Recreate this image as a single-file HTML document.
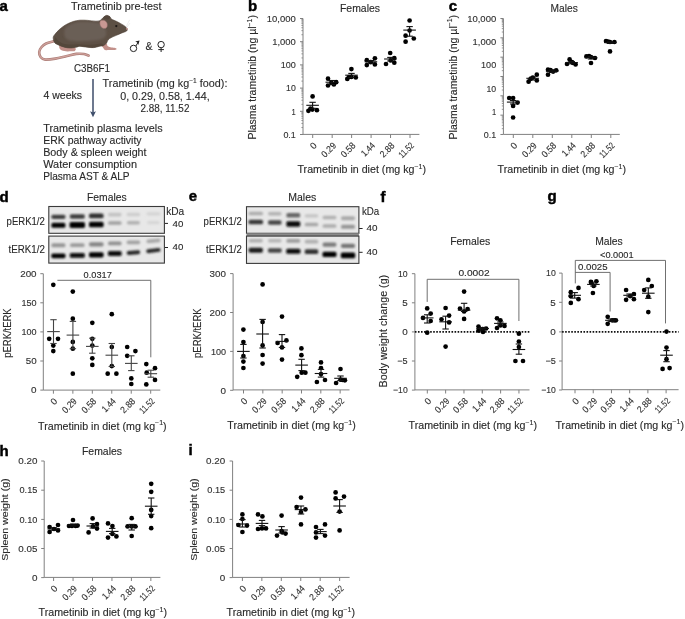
<!DOCTYPE html>
<html><head><meta charset="utf-8"><style>
html,body{margin:0;padding:0;background:#fff;}
svg{display:block;will-change:transform;}
text{font-family:"Liberation Sans", sans-serif;stroke:#2a2a2a;stroke-width:0.12px;}
</style></head><body>
<svg width="685" height="619" viewBox="0 0 685 619" fill="#2a2a2a">
<defs><filter id="bl" x="-20%" y="-100%" width="140%" height="300%"><feGaussianBlur stdDeviation="0.95"/></filter><filter id="mb" x="-10%" y="-10%" width="120%" height="120%"><feGaussianBlur stdDeviation="0.8"/></filter></defs>
<rect width="685" height="619" fill="#fff"/>
<text x="-0.6" y="11" font-size="15" font-weight="bold" style="fill:#000;stroke:#000;stroke-width:0.45px">a</text>
<text x="71" y="10" font-size="10.5" textLength="90.5" lengthAdjust="spacingAndGlyphs">Trametinib pre-test</text>
<text x="74" y="71.6" font-size="10.5" textLength="36" lengthAdjust="spacingAndGlyphs">C3B6F1</text>
<text x="43.5" y="99.4" font-size="10.5" textLength="38.5" lengthAdjust="spacingAndGlyphs">4 weeks</text>
<text x="102.6" y="87.2" font-size="10.5" textLength="124.8" lengthAdjust="spacingAndGlyphs">Trametinib (mg kg<tspan font-size="6.5" dy="-3.8">−1</tspan><tspan dy="3.8"> food):</tspan></text>
<text x="120.2" y="100.1" font-size="10.5" textLength="89.5" lengthAdjust="spacingAndGlyphs">0, 0.29, 0.58, 1.44,</text>
<text x="140.6" y="111.5" font-size="10.5" textLength="48.8" lengthAdjust="spacingAndGlyphs">2.88, 11.52</text>
<text x="43.2" y="131.9" font-size="10.5" textLength="119.4" lengthAdjust="spacingAndGlyphs">Trametinib plasma levels</text>
<text x="43.2" y="143.9" font-size="10.5" textLength="98.4" lengthAdjust="spacingAndGlyphs">ERK pathway activity</text>
<text x="43.2" y="155.9" font-size="10.5" textLength="103.4" lengthAdjust="spacingAndGlyphs">Body &amp; spleen weight</text>
<text x="43.2" y="167.9" font-size="10.5" textLength="93.8" lengthAdjust="spacingAndGlyphs">Water consumption</text>
<text x="43.2" y="179.9" font-size="10.5" textLength="86.4" lengthAdjust="spacingAndGlyphs">Plasma AST &amp; ALP</text>
<line x1="93" y1="79" x2="93" y2="113" stroke="#3d4d6a" stroke-width="1.5"/>
<path d="M90.1 111.2 L93 117.2 L95.9 111.2 L93 112.6 Z" fill="#3d4d6a"/>
<g><path d="M53.50 41.30 C52.27 41.67 48.12 42.50 46.10 43.50 C44.08 44.50 42.55 45.88 41.40 47.30 C40.25 48.72 39.32 50.35 39.20 52.00 C39.08 53.65 39.68 55.93 40.70 57.20 C41.72 58.47 42.85 59.37 45.30 59.60 C47.75 59.83 51.78 59.22 55.40 58.60 C59.02 57.98 63.52 56.68 67.00 55.90 C70.48 55.12 73.47 54.22 76.30 53.90 C79.13 53.58 81.95 53.72 84.00 54.00 C86.05 54.28 87.83 55.33 88.60 55.60" fill="none" stroke="#ad7e78" stroke-width="2.6" stroke-linecap="round"/><path d="M53.50 41.30 C52.27 41.67 48.12 42.50 46.10 43.50 C44.08 44.50 42.55 45.88 41.40 47.30 C40.25 48.72 39.32 50.35 39.20 52.00 C39.08 53.65 39.68 55.93 40.70 57.20 C41.72 58.47 42.85 59.37 45.30 59.60 C47.75 59.83 51.78 59.22 55.40 58.60 C59.02 57.98 63.52 56.68 67.00 55.90 C70.48 55.12 73.47 54.22 76.30 53.90 C79.13 53.58 81.95 53.72 84.00 54.00 C86.05 54.28 87.83 55.33 88.60 55.60" fill="none" stroke="#cfa29c" stroke-width="1.2" stroke-linecap="round"/><path d="M59.50 45.20 C60.23 44.80 62.25 45.77 64.00 46.00 C65.75 46.23 68.25 46.40 70.00 46.60 C71.75 46.80 73.53 46.77 74.50 47.20 C75.47 47.63 75.83 48.53 75.80 49.20 C75.77 49.87 75.10 50.85 74.30 51.20 C73.50 51.55 72.13 51.25 71.00 51.30 C69.87 51.35 68.62 51.55 67.50 51.50 C66.38 51.45 65.30 51.22 64.30 51.00 C63.30 50.78 62.28 50.63 61.50 50.20 C60.72 49.77 59.93 49.23 59.60 48.40 C59.27 47.57 58.77 45.60 59.50 45.20Z" fill="#c2908a"/><path d="M101.20 44.20 C101.70 43.47 105.43 43.50 106.50 43.80 C107.57 44.10 106.93 45.43 107.60 46.00 C108.27 46.57 109.35 46.90 110.50 47.20 C111.65 47.50 113.48 47.52 114.50 47.80 C115.52 48.08 116.55 48.55 116.60 48.90 C116.65 49.25 116.07 49.70 114.80 49.90 C113.53 50.10 110.60 50.08 109.00 50.10 C107.40 50.12 106.12 50.32 105.20 50.00 C104.28 49.68 104.17 49.17 103.50 48.20 C102.83 47.23 100.70 44.93 101.20 44.20Z" fill="#c2908a"/><path d="M53.20 37.60 C53.30 36.17 54.18 35.33 55.20 34.00 C56.22 32.67 57.58 31.12 59.30 29.60 C61.02 28.08 63.18 26.25 65.50 24.90 C67.82 23.55 70.78 22.28 73.20 21.50 C75.62 20.72 77.57 20.38 80.00 20.20 C82.43 20.02 85.22 20.23 87.80 20.40 C90.38 20.57 93.43 21.20 95.50 21.20 C97.57 21.20 98.92 21.00 100.20 20.40 C101.48 19.80 102.17 18.43 103.20 17.60 C104.23 16.77 105.30 15.57 106.40 15.40 C107.50 15.23 108.95 16.00 109.80 16.60 C110.65 17.20 110.27 18.15 111.50 19.00 C112.73 19.85 115.22 20.67 117.20 21.70 C119.18 22.73 121.78 24.12 123.40 25.20 C125.02 26.28 126.37 27.23 126.90 28.20 C127.43 29.17 127.43 30.22 126.60 31.00 C125.77 31.78 123.60 32.18 121.90 32.90 C120.20 33.62 118.22 34.50 116.40 35.30 C114.58 36.10 112.40 36.92 111.00 37.70 C109.60 38.48 108.75 39.08 108.00 40.00 C107.25 40.92 107.25 42.27 106.50 43.20 C105.75 44.13 104.68 45.08 103.50 45.60 C102.32 46.12 100.98 45.97 99.40 46.30 C97.82 46.63 95.93 47.43 94.00 47.60 C92.07 47.77 90.13 47.52 87.80 47.30 C85.47 47.08 81.78 46.35 80.00 46.30 C78.22 46.25 78.62 46.72 77.10 47.00 C75.58 47.28 72.97 47.95 70.90 48.00 C68.83 48.05 66.77 47.80 64.70 47.30 C62.63 46.80 60.18 45.78 58.50 45.00 C56.82 44.22 55.48 43.83 54.60 42.60 C53.72 41.37 53.10 39.03 53.20 37.60Z" fill="#5d5045" stroke="#4f4237" stroke-width="0.6"/><path d="M64.50 30.00 C64.95 28.83 65.58 27.63 67.00 26.50 C68.42 25.37 70.83 23.98 73.00 23.20 C75.17 22.42 77.50 22.03 80.00 21.80 C82.50 21.57 85.33 21.67 88.00 21.80 C90.67 21.93 93.92 22.32 96.00 22.60 C98.08 22.88 99.17 22.77 100.50 23.50 C101.83 24.23 103.08 25.75 104.00 27.00 C104.92 28.25 105.67 29.67 106.00 31.00 C106.33 32.33 106.50 33.75 106.00 35.00 C105.50 36.25 104.67 37.63 103.00 38.50 C101.33 39.37 98.83 39.78 96.00 40.20 C93.17 40.62 89.33 40.83 86.00 41.00 C82.67 41.17 78.83 41.32 76.00 41.20 C73.17 41.08 70.78 40.92 69.00 40.30 C67.22 39.68 66.08 38.63 65.30 37.50 C64.52 36.37 64.43 34.75 64.30 33.50 C64.17 32.25 64.05 31.17 64.50 30.00Z" fill="#6a5e56" filter="url(#mb)"/><path d="M54.60 42.60 C55.10 43.85 56.82 44.22 58.50 45.00 C60.18 45.78 62.63 46.80 64.70 47.30 C66.77 47.80 68.83 48.05 70.90 48.00 C72.97 47.95 75.58 47.28 77.10 47.00 C78.62 46.72 78.22 46.25 80.00 46.30 C81.78 46.35 85.47 47.08 87.80 47.30 C90.13 47.52 92.07 47.77 94.00 47.60 C95.93 47.43 97.82 46.63 99.40 46.30 C100.98 45.97 103.23 46.07 103.50 45.60 C103.77 45.13 102.58 43.68 101.00 43.50 C99.42 43.32 96.50 44.28 94.00 44.50 C91.50 44.72 88.67 44.85 86.00 44.80 C83.33 44.75 80.67 44.23 78.00 44.20 C75.33 44.17 72.50 44.72 70.00 44.60 C67.50 44.48 65.00 44.18 63.00 43.50 C61.00 42.82 59.25 41.50 58.00 40.50 C56.75 39.50 56.07 37.15 55.50 37.50 C54.93 37.85 54.10 41.35 54.60 42.60Z" fill="#54473b"/><path d="M103.2 17.6 C104.5 15.6 107.5 14.8 109.8 16.6 C110.5 17.5 110 19 108 19.5 C106 19.8 104 19.2 103.2 17.6Z" fill="#54473d"/><path d="M100.00 21.50 C100.32 20.62 101.37 20.43 102.20 20.30 C103.03 20.17 104.20 20.25 105.00 20.70 C105.80 21.15 106.63 22.05 107.00 23.00 C107.37 23.95 107.48 25.50 107.20 26.40 C106.92 27.30 106.10 28.13 105.30 28.40 C104.50 28.67 103.23 28.47 102.40 28.00 C101.57 27.53 100.70 26.68 100.30 25.60 C99.90 24.52 99.68 22.38 100.00 21.50Z" fill="#c99893" stroke="#8f6a66" stroke-width="0.5"/><circle cx="116.3" cy="26.1" r="1.15" fill="#1c1715"/><path d="M126 27 L129.6 19.8 M126.4 28 L130 23" stroke="#dcdcdc" stroke-width="0.5"/><circle cx="126.8" cy="28.8" r="0.9" fill="#c48f8a"/></g>
<g fill="none" stroke="#222" stroke-width="1.0"><circle cx="133.5" cy="48.4" r="3.2"/><path d="M135.9 46.0 L138.6 41.5"/><circle cx="161.1" cy="44.6" r="3.2"/><path d="M161.1 47.8 L161.1 52 M158.3 49.6 L163.9 49.6"/></g>
<path d="M139.5 40.6 L135.2 41.6 L137.3 42.6 L138.3 44.9 Z" fill="#222"/>
<text x="145.4" y="49.9" font-size="10.4" textLength="7.0" lengthAdjust="spacingAndGlyphs">&amp;</text>
<text x="248.1" y="11" font-size="15" font-weight="bold" style="fill:#000;stroke:#000;stroke-width:0.45px">b</text>
<text x="340" y="11.6" font-size="10" textLength="40" lengthAdjust="spacingAndGlyphs">Females</text>
<line x1="303" y1="18.5" x2="303" y2="134.5" stroke="#808080" stroke-width="1"/>
<line x1="300" y1="18.5" x2="303" y2="18.5" stroke="#808080" stroke-width="1"/>
<line x1="301.4" y1="34.72" x2="303" y2="34.72" stroke="#808080" stroke-width="0.8"/>
<line x1="301.4" y1="30.63" x2="303" y2="30.63" stroke="#808080" stroke-width="0.8"/>
<line x1="301.4" y1="27.73" x2="303" y2="27.73" stroke="#808080" stroke-width="0.8"/>
<line x1="301.4" y1="25.48" x2="303" y2="25.48" stroke="#808080" stroke-width="0.8"/>
<line x1="301.4" y1="23.65" x2="303" y2="23.65" stroke="#808080" stroke-width="0.8"/>
<line x1="301.4" y1="22.09" x2="303" y2="22.09" stroke="#808080" stroke-width="0.8"/>
<line x1="301.4" y1="20.75" x2="303" y2="20.75" stroke="#808080" stroke-width="0.8"/>
<line x1="301.4" y1="19.56" x2="303" y2="19.56" stroke="#808080" stroke-width="0.8"/>
<line x1="300" y1="41.7" x2="303" y2="41.7" stroke="#808080" stroke-width="1"/>
<line x1="301.4" y1="57.92" x2="303" y2="57.92" stroke="#808080" stroke-width="0.8"/>
<line x1="301.4" y1="53.83" x2="303" y2="53.83" stroke="#808080" stroke-width="0.8"/>
<line x1="301.4" y1="50.93" x2="303" y2="50.93" stroke="#808080" stroke-width="0.8"/>
<line x1="301.4" y1="48.68" x2="303" y2="48.68" stroke="#808080" stroke-width="0.8"/>
<line x1="301.4" y1="46.85" x2="303" y2="46.85" stroke="#808080" stroke-width="0.8"/>
<line x1="301.4" y1="45.29" x2="303" y2="45.29" stroke="#808080" stroke-width="0.8"/>
<line x1="301.4" y1="43.95" x2="303" y2="43.95" stroke="#808080" stroke-width="0.8"/>
<line x1="301.4" y1="42.76" x2="303" y2="42.76" stroke="#808080" stroke-width="0.8"/>
<line x1="300" y1="64.9" x2="303" y2="64.9" stroke="#808080" stroke-width="1"/>
<line x1="301.4" y1="81.12" x2="303" y2="81.12" stroke="#808080" stroke-width="0.8"/>
<line x1="301.4" y1="77.03" x2="303" y2="77.03" stroke="#808080" stroke-width="0.8"/>
<line x1="301.4" y1="74.13" x2="303" y2="74.13" stroke="#808080" stroke-width="0.8"/>
<line x1="301.4" y1="71.88" x2="303" y2="71.88" stroke="#808080" stroke-width="0.8"/>
<line x1="301.4" y1="70.05" x2="303" y2="70.05" stroke="#808080" stroke-width="0.8"/>
<line x1="301.4" y1="68.49" x2="303" y2="68.49" stroke="#808080" stroke-width="0.8"/>
<line x1="301.4" y1="67.15" x2="303" y2="67.15" stroke="#808080" stroke-width="0.8"/>
<line x1="301.4" y1="65.96" x2="303" y2="65.96" stroke="#808080" stroke-width="0.8"/>
<line x1="300" y1="88.1" x2="303" y2="88.1" stroke="#808080" stroke-width="1"/>
<line x1="301.4" y1="104.32" x2="303" y2="104.32" stroke="#808080" stroke-width="0.8"/>
<line x1="301.4" y1="100.23" x2="303" y2="100.23" stroke="#808080" stroke-width="0.8"/>
<line x1="301.4" y1="97.33" x2="303" y2="97.33" stroke="#808080" stroke-width="0.8"/>
<line x1="301.4" y1="95.08" x2="303" y2="95.08" stroke="#808080" stroke-width="0.8"/>
<line x1="301.4" y1="93.25" x2="303" y2="93.25" stroke="#808080" stroke-width="0.8"/>
<line x1="301.4" y1="91.69" x2="303" y2="91.69" stroke="#808080" stroke-width="0.8"/>
<line x1="301.4" y1="90.35" x2="303" y2="90.35" stroke="#808080" stroke-width="0.8"/>
<line x1="301.4" y1="89.16" x2="303" y2="89.16" stroke="#808080" stroke-width="0.8"/>
<line x1="300" y1="111.3" x2="303" y2="111.3" stroke="#808080" stroke-width="1"/>
<line x1="301.4" y1="127.52" x2="303" y2="127.52" stroke="#808080" stroke-width="0.8"/>
<line x1="301.4" y1="123.43" x2="303" y2="123.43" stroke="#808080" stroke-width="0.8"/>
<line x1="301.4" y1="120.53" x2="303" y2="120.53" stroke="#808080" stroke-width="0.8"/>
<line x1="301.4" y1="118.28" x2="303" y2="118.28" stroke="#808080" stroke-width="0.8"/>
<line x1="301.4" y1="116.45" x2="303" y2="116.45" stroke="#808080" stroke-width="0.8"/>
<line x1="301.4" y1="114.89" x2="303" y2="114.89" stroke="#808080" stroke-width="0.8"/>
<line x1="301.4" y1="113.55" x2="303" y2="113.55" stroke="#808080" stroke-width="0.8"/>
<line x1="301.4" y1="112.36" x2="303" y2="112.36" stroke="#808080" stroke-width="0.8"/>
<line x1="300" y1="134.5" x2="303" y2="134.5" stroke="#808080" stroke-width="1"/>
<text x="295.8" y="21.7" font-size="9" text-anchor="end" textLength="29.0" lengthAdjust="spacingAndGlyphs" fill="#333">10,000</text>
<text x="295.8" y="44.9" font-size="9" text-anchor="end" textLength="23.6" lengthAdjust="spacingAndGlyphs" fill="#333">1,000</text>
<text x="295.8" y="68.1" font-size="9" text-anchor="end" textLength="15.1" lengthAdjust="spacingAndGlyphs" fill="#333">100</text>
<text x="295.8" y="91.3" font-size="9" text-anchor="end" textLength="9.7" lengthAdjust="spacingAndGlyphs" fill="#333">10</text>
<text x="295.8" y="114.5" font-size="9" text-anchor="end" textLength="4.2" lengthAdjust="spacingAndGlyphs" fill="#333">1</text>
<text x="295.8" y="137.7" font-size="9" text-anchor="end" textLength="12.4" lengthAdjust="spacingAndGlyphs" fill="#333">0.1</text>
<line x1="303" y1="134.4" x2="419.4" y2="134.4" stroke="#808080" stroke-width="1"/>
<line x1="312.7" y1="134.4" x2="312.7" y2="138.0" stroke="#808080" stroke-width="1"/>
<line x1="332.15999999999997" y1="134.4" x2="332.15999999999997" y2="138.0" stroke="#808080" stroke-width="1"/>
<line x1="351.62" y1="134.4" x2="351.62" y2="138.0" stroke="#808080" stroke-width="1"/>
<line x1="371.08" y1="134.4" x2="371.08" y2="138.0" stroke="#808080" stroke-width="1"/>
<line x1="390.53999999999996" y1="134.4" x2="390.53999999999996" y2="138.0" stroke="#808080" stroke-width="1"/>
<line x1="410.0" y1="134.4" x2="410.0" y2="138.0" stroke="#808080" stroke-width="1"/>
<text x="0" y="0" font-size="9.3" text-anchor="end" fill="#333" transform="translate(317.3 146.2) rotate(-45)">0</text>
<text x="0" y="0" font-size="9.3" text-anchor="end" textLength="16.6" lengthAdjust="spacingAndGlyphs" fill="#333" transform="translate(336.76 146.2) rotate(-45)">0.29</text>
<text x="0" y="0" font-size="9.3" text-anchor="end" textLength="16.6" lengthAdjust="spacingAndGlyphs" fill="#333" transform="translate(356.22 146.2) rotate(-45)">0.58</text>
<text x="0" y="0" font-size="9.3" text-anchor="end" textLength="15.4" lengthAdjust="spacingAndGlyphs" fill="#333" transform="translate(375.68 146.2) rotate(-45)">1.44</text>
<text x="0" y="0" font-size="9.3" text-anchor="end" textLength="16.6" lengthAdjust="spacingAndGlyphs" fill="#333" transform="translate(395.14 146.2) rotate(-45)">2.88</text>
<text x="0" y="0" font-size="9.3" text-anchor="end" textLength="17.4" lengthAdjust="spacingAndGlyphs" fill="#333" transform="translate(414.6 146.2) rotate(-45)">11.52</text>
<text x="297.5" y="173" font-size="10" textLength="128.5" lengthAdjust="spacingAndGlyphs">Trametinib in diet (mg kg<tspan font-size="6.6" dy="-4.3">−1</tspan><tspan dy="4.3">)</tspan></text>
<text x="0" y="0" font-size="10" textLength="124.5" lengthAdjust="spacingAndGlyphs" transform="translate(256 139.6) rotate(-90)">Plasma trametinib (ng µl<tspan font-size="6.6" dy="-4.3">−1</tspan><tspan dy="4.3">)</tspan></text>
<g fill="#000">
<circle cx="312.6" cy="96.4" r="2.35"/>
<circle cx="308.4" cy="110.8" r="2.35"/>
<circle cx="312.3" cy="109.6" r="2.35"/>
<circle cx="316.9" cy="110.2" r="2.35"/>
<circle cx="310.5" cy="108.5" r="2.35"/>
<circle cx="328" cy="78.7" r="2.35"/>
<circle cx="328" cy="85.5" r="2.35"/>
<circle cx="331.3" cy="82.8" r="2.35"/>
<circle cx="333.9" cy="84.5" r="2.35"/>
<circle cx="336.2" cy="82.2" r="2.35"/>
<circle cx="351.4" cy="69.1" r="2.35"/>
<circle cx="347.3" cy="78.9" r="2.35"/>
<circle cx="351.4" cy="76.9" r="2.35"/>
<circle cx="355.8" cy="77.5" r="2.35"/>
<circle cx="349" cy="77" r="2.35"/>
<circle cx="366.8" cy="60.2" r="2.35"/>
<circle cx="374.9" cy="58.3" r="2.35"/>
<circle cx="366.8" cy="65.1" r="2.35"/>
<circle cx="374.9" cy="64.4" r="2.35"/>
<circle cx="370.7" cy="62.2" r="2.35"/>
<circle cx="390.2" cy="53" r="2.35"/>
<circle cx="394.3" cy="58.1" r="2.35"/>
<circle cx="386" cy="64" r="2.35"/>
<circle cx="394.3" cy="62.7" r="2.35"/>
<circle cx="390.7" cy="60.4" r="2.35"/>
<circle cx="409.6" cy="20.5" r="2.35"/>
<circle cx="409.6" cy="30.5" r="2.35"/>
<circle cx="405.6" cy="35.7" r="2.35"/>
<circle cx="413.8" cy="38.5" r="2.35"/>
<circle cx="405.6" cy="41.7" r="2.35"/>
</g>
<line x1="306.3" y1="105.3" x2="318.90000000000003" y2="105.3" stroke="#111" stroke-width="1.1"/>
<line x1="312.6" y1="102.3" x2="312.6" y2="108.3" stroke="#111" stroke-width="1.1"/>
<line x1="309.40000000000003" y1="102.3" x2="315.8" y2="102.3" stroke="#111" stroke-width="1.1"/>
<line x1="309.40000000000003" y1="108.3" x2="315.8" y2="108.3" stroke="#111" stroke-width="1.1"/>
<line x1="325.5" y1="82.2" x2="338.1" y2="82.2" stroke="#111" stroke-width="1.1"/>
<line x1="331.8" y1="80.5" x2="331.8" y2="84.5" stroke="#111" stroke-width="1.1"/>
<line x1="328.6" y1="80.5" x2="335.0" y2="80.5" stroke="#111" stroke-width="1.1"/>
<line x1="328.6" y1="84.5" x2="335.0" y2="84.5" stroke="#111" stroke-width="1.1"/>
<line x1="345.2" y1="75.2" x2="357.8" y2="75.2" stroke="#111" stroke-width="1.1"/>
<line x1="351.5" y1="73.4" x2="351.5" y2="77.5" stroke="#111" stroke-width="1.1"/>
<line x1="348.3" y1="73.4" x2="354.7" y2="73.4" stroke="#111" stroke-width="1.1"/>
<line x1="348.3" y1="77.5" x2="354.7" y2="77.5" stroke="#111" stroke-width="1.1"/>
<line x1="364.59999999999997" y1="61.8" x2="377.2" y2="61.8" stroke="#111" stroke-width="1.1"/>
<line x1="370.9" y1="60.5" x2="370.9" y2="63.2" stroke="#111" stroke-width="1.1"/>
<line x1="367.7" y1="60.5" x2="374.09999999999997" y2="60.5" stroke="#111" stroke-width="1.1"/>
<line x1="367.7" y1="63.2" x2="374.09999999999997" y2="63.2" stroke="#111" stroke-width="1.1"/>
<line x1="384.09999999999997" y1="59" x2="396.7" y2="59" stroke="#111" stroke-width="1.1"/>
<line x1="390.4" y1="57.4" x2="390.4" y2="61" stroke="#111" stroke-width="1.1"/>
<line x1="387.2" y1="57.4" x2="393.59999999999997" y2="57.4" stroke="#111" stroke-width="1.1"/>
<line x1="387.2" y1="61" x2="393.59999999999997" y2="61" stroke="#111" stroke-width="1.1"/>
<line x1="403.3" y1="30.1" x2="415.90000000000003" y2="30.1" stroke="#111" stroke-width="1.1"/>
<line x1="409.6" y1="26.6" x2="409.6" y2="36.2" stroke="#111" stroke-width="1.1"/>
<line x1="406.40000000000003" y1="26.6" x2="412.8" y2="26.6" stroke="#111" stroke-width="1.1"/>
<line x1="406.40000000000003" y1="36.2" x2="412.8" y2="36.2" stroke="#111" stroke-width="1.1"/>
<text x="448.8" y="11" font-size="15" font-weight="bold" style="fill:#000;stroke:#000;stroke-width:0.45px">c</text>
<text x="550.6" y="11.6" font-size="10" textLength="27.2" lengthAdjust="spacingAndGlyphs">Males</text>
<line x1="503.4" y1="18.5" x2="503.4" y2="134.48" stroke="#808080" stroke-width="1"/>
<line x1="500.4" y1="18.5" x2="503.4" y2="18.5" stroke="#808080" stroke-width="1"/>
<line x1="501.79999999999995" y1="32.01" x2="503.4" y2="32.01" stroke="#808080" stroke-width="0.8"/>
<line x1="501.79999999999995" y1="28.61" x2="503.4" y2="28.61" stroke="#808080" stroke-width="0.8"/>
<line x1="501.79999999999995" y1="26.19" x2="503.4" y2="26.19" stroke="#808080" stroke-width="0.8"/>
<line x1="501.79999999999995" y1="24.32" x2="503.4" y2="24.32" stroke="#808080" stroke-width="0.8"/>
<line x1="501.79999999999995" y1="22.79" x2="503.4" y2="22.79" stroke="#808080" stroke-width="0.8"/>
<line x1="501.79999999999995" y1="21.49" x2="503.4" y2="21.49" stroke="#808080" stroke-width="0.8"/>
<line x1="501.79999999999995" y1="20.37" x2="503.4" y2="20.37" stroke="#808080" stroke-width="0.8"/>
<line x1="501.79999999999995" y1="19.38" x2="503.4" y2="19.38" stroke="#808080" stroke-width="0.8"/>
<line x1="500.4" y1="37.83" x2="503.4" y2="37.83" stroke="#808080" stroke-width="1"/>
<line x1="501.79999999999995" y1="51.34" x2="503.4" y2="51.34" stroke="#808080" stroke-width="0.8"/>
<line x1="501.79999999999995" y1="47.94" x2="503.4" y2="47.94" stroke="#808080" stroke-width="0.8"/>
<line x1="501.79999999999995" y1="45.52" x2="503.4" y2="45.52" stroke="#808080" stroke-width="0.8"/>
<line x1="501.79999999999995" y1="43.65" x2="503.4" y2="43.65" stroke="#808080" stroke-width="0.8"/>
<line x1="501.79999999999995" y1="42.12" x2="503.4" y2="42.12" stroke="#808080" stroke-width="0.8"/>
<line x1="501.79999999999995" y1="40.82" x2="503.4" y2="40.82" stroke="#808080" stroke-width="0.8"/>
<line x1="501.79999999999995" y1="39.7" x2="503.4" y2="39.7" stroke="#808080" stroke-width="0.8"/>
<line x1="501.79999999999995" y1="38.71" x2="503.4" y2="38.71" stroke="#808080" stroke-width="0.8"/>
<line x1="500.4" y1="57.16" x2="503.4" y2="57.16" stroke="#808080" stroke-width="1"/>
<line x1="501.79999999999995" y1="70.67" x2="503.4" y2="70.67" stroke="#808080" stroke-width="0.8"/>
<line x1="501.79999999999995" y1="67.27" x2="503.4" y2="67.27" stroke="#808080" stroke-width="0.8"/>
<line x1="501.79999999999995" y1="64.85" x2="503.4" y2="64.85" stroke="#808080" stroke-width="0.8"/>
<line x1="501.79999999999995" y1="62.98" x2="503.4" y2="62.98" stroke="#808080" stroke-width="0.8"/>
<line x1="501.79999999999995" y1="61.45" x2="503.4" y2="61.45" stroke="#808080" stroke-width="0.8"/>
<line x1="501.79999999999995" y1="60.15" x2="503.4" y2="60.15" stroke="#808080" stroke-width="0.8"/>
<line x1="501.79999999999995" y1="59.03" x2="503.4" y2="59.03" stroke="#808080" stroke-width="0.8"/>
<line x1="501.79999999999995" y1="58.04" x2="503.4" y2="58.04" stroke="#808080" stroke-width="0.8"/>
<line x1="500.4" y1="76.49" x2="503.4" y2="76.49" stroke="#808080" stroke-width="1"/>
<line x1="501.79999999999995" y1="90.0" x2="503.4" y2="90.0" stroke="#808080" stroke-width="0.8"/>
<line x1="501.79999999999995" y1="86.6" x2="503.4" y2="86.6" stroke="#808080" stroke-width="0.8"/>
<line x1="501.79999999999995" y1="84.18" x2="503.4" y2="84.18" stroke="#808080" stroke-width="0.8"/>
<line x1="501.79999999999995" y1="82.31" x2="503.4" y2="82.31" stroke="#808080" stroke-width="0.8"/>
<line x1="501.79999999999995" y1="80.78" x2="503.4" y2="80.78" stroke="#808080" stroke-width="0.8"/>
<line x1="501.79999999999995" y1="79.48" x2="503.4" y2="79.48" stroke="#808080" stroke-width="0.8"/>
<line x1="501.79999999999995" y1="78.36" x2="503.4" y2="78.36" stroke="#808080" stroke-width="0.8"/>
<line x1="501.79999999999995" y1="77.37" x2="503.4" y2="77.37" stroke="#808080" stroke-width="0.8"/>
<line x1="500.4" y1="95.82" x2="503.4" y2="95.82" stroke="#808080" stroke-width="1"/>
<line x1="501.79999999999995" y1="109.33" x2="503.4" y2="109.33" stroke="#808080" stroke-width="0.8"/>
<line x1="501.79999999999995" y1="105.93" x2="503.4" y2="105.93" stroke="#808080" stroke-width="0.8"/>
<line x1="501.79999999999995" y1="103.51" x2="503.4" y2="103.51" stroke="#808080" stroke-width="0.8"/>
<line x1="501.79999999999995" y1="101.64" x2="503.4" y2="101.64" stroke="#808080" stroke-width="0.8"/>
<line x1="501.79999999999995" y1="100.11" x2="503.4" y2="100.11" stroke="#808080" stroke-width="0.8"/>
<line x1="501.79999999999995" y1="98.81" x2="503.4" y2="98.81" stroke="#808080" stroke-width="0.8"/>
<line x1="501.79999999999995" y1="97.69" x2="503.4" y2="97.69" stroke="#808080" stroke-width="0.8"/>
<line x1="501.79999999999995" y1="96.7" x2="503.4" y2="96.7" stroke="#808080" stroke-width="0.8"/>
<line x1="500.4" y1="115.14999999999999" x2="503.4" y2="115.14999999999999" stroke="#808080" stroke-width="1"/>
<line x1="501.79999999999995" y1="128.66" x2="503.4" y2="128.66" stroke="#808080" stroke-width="0.8"/>
<line x1="501.79999999999995" y1="125.26" x2="503.4" y2="125.26" stroke="#808080" stroke-width="0.8"/>
<line x1="501.79999999999995" y1="122.84" x2="503.4" y2="122.84" stroke="#808080" stroke-width="0.8"/>
<line x1="501.79999999999995" y1="120.97" x2="503.4" y2="120.97" stroke="#808080" stroke-width="0.8"/>
<line x1="501.79999999999995" y1="119.44" x2="503.4" y2="119.44" stroke="#808080" stroke-width="0.8"/>
<line x1="501.79999999999995" y1="118.14" x2="503.4" y2="118.14" stroke="#808080" stroke-width="0.8"/>
<line x1="501.79999999999995" y1="117.02" x2="503.4" y2="117.02" stroke="#808080" stroke-width="0.8"/>
<line x1="501.79999999999995" y1="116.03" x2="503.4" y2="116.03" stroke="#808080" stroke-width="0.8"/>
<line x1="500.4" y1="134.48" x2="503.4" y2="134.48" stroke="#808080" stroke-width="1"/>
<text x="496.2" y="22.2" font-size="9" text-anchor="end" textLength="29.0" lengthAdjust="spacingAndGlyphs" fill="#333">10,000</text>
<text x="496.2" y="45.2" font-size="9" text-anchor="end" textLength="23.6" lengthAdjust="spacingAndGlyphs" fill="#333">1,000</text>
<text x="496.2" y="68.4" font-size="9" text-anchor="end" textLength="15.1" lengthAdjust="spacingAndGlyphs" fill="#333">100</text>
<text x="496.2" y="91.5" font-size="9" text-anchor="end" textLength="9.7" lengthAdjust="spacingAndGlyphs" fill="#333">10</text>
<text x="496.2" y="114.6" font-size="9" text-anchor="end" textLength="4.2" lengthAdjust="spacingAndGlyphs" fill="#333">1</text>
<text x="496.2" y="137.7" font-size="9" text-anchor="end" textLength="12.4" lengthAdjust="spacingAndGlyphs" fill="#333">0.1</text>
<line x1="503.4" y1="134.4" x2="619.8" y2="134.4" stroke="#808080" stroke-width="1"/>
<line x1="513.3" y1="134.4" x2="513.3" y2="138.0" stroke="#808080" stroke-width="1"/>
<line x1="532.8" y1="134.4" x2="532.8" y2="138.0" stroke="#808080" stroke-width="1"/>
<line x1="552.3" y1="134.4" x2="552.3" y2="138.0" stroke="#808080" stroke-width="1"/>
<line x1="571.8" y1="134.4" x2="571.8" y2="138.0" stroke="#808080" stroke-width="1"/>
<line x1="591.3" y1="134.4" x2="591.3" y2="138.0" stroke="#808080" stroke-width="1"/>
<line x1="610.8" y1="134.4" x2="610.8" y2="138.0" stroke="#808080" stroke-width="1"/>
<text x="0" y="0" font-size="9.3" text-anchor="end" fill="#333" transform="translate(517.9 146.2) rotate(-45)">0</text>
<text x="0" y="0" font-size="9.3" text-anchor="end" textLength="16.6" lengthAdjust="spacingAndGlyphs" fill="#333" transform="translate(537.4 146.2) rotate(-45)">0.29</text>
<text x="0" y="0" font-size="9.3" text-anchor="end" textLength="16.6" lengthAdjust="spacingAndGlyphs" fill="#333" transform="translate(556.9 146.2) rotate(-45)">0.58</text>
<text x="0" y="0" font-size="9.3" text-anchor="end" textLength="15.4" lengthAdjust="spacingAndGlyphs" fill="#333" transform="translate(576.4 146.2) rotate(-45)">1.44</text>
<text x="0" y="0" font-size="9.3" text-anchor="end" textLength="16.6" lengthAdjust="spacingAndGlyphs" fill="#333" transform="translate(595.9 146.2) rotate(-45)">2.88</text>
<text x="0" y="0" font-size="9.3" text-anchor="end" textLength="17.4" lengthAdjust="spacingAndGlyphs" fill="#333" transform="translate(615.4 146.2) rotate(-45)">11.52</text>
<text x="497.6" y="172.8" font-size="10" textLength="128.5" lengthAdjust="spacingAndGlyphs">Trametinib in diet (mg kg<tspan font-size="6.6" dy="-4.3">−1</tspan><tspan dy="4.3">)</tspan></text>
<text x="0" y="0" font-size="10" textLength="124.5" lengthAdjust="spacingAndGlyphs" transform="translate(456.5 139.4) rotate(-90)">Plasma trametinib (ng µl<tspan font-size="6.6" dy="-4.3">−1</tspan><tspan dy="4.3">)</tspan></text>
<g fill="#000">
<circle cx="509.2" cy="98" r="2.35"/>
<circle cx="513.1" cy="98" r="2.35"/>
<circle cx="517.6" cy="102.6" r="2.35"/>
<circle cx="513.1" cy="105.9" r="2.35"/>
<circle cx="513.1" cy="117.5" r="2.35"/>
<circle cx="528.6" cy="81.7" r="2.35"/>
<circle cx="532.8" cy="77.6" r="2.35"/>
<circle cx="536.8" cy="74.7" r="2.35"/>
<circle cx="536.8" cy="80.5" r="2.35"/>
<circle cx="530.5" cy="79" r="2.35"/>
<circle cx="548" cy="69.7" r="2.35"/>
<circle cx="550.5" cy="70" r="2.35"/>
<circle cx="553.1" cy="71.6" r="2.35"/>
<circle cx="556.2" cy="70.3" r="2.35"/>
<circle cx="548" cy="74.7" r="2.35"/>
<circle cx="569.6" cy="59.4" r="2.35"/>
<circle cx="567" cy="64" r="2.35"/>
<circle cx="572" cy="62" r="2.35"/>
<circle cx="575.6" cy="64.4" r="2.35"/>
<circle cx="573" cy="63" r="2.35"/>
<circle cx="586.4" cy="56.4" r="2.35"/>
<circle cx="591" cy="57" r="2.35"/>
<circle cx="595" cy="58" r="2.35"/>
<circle cx="591" cy="63" r="2.35"/>
<circle cx="589" cy="56" r="2.35"/>
<circle cx="606" cy="41" r="2.35"/>
<circle cx="610" cy="42" r="2.35"/>
<circle cx="614.4" cy="42" r="2.35"/>
<circle cx="610" cy="51.4" r="2.35"/>
<circle cx="608" cy="41.6" r="2.35"/>
</g>
<line x1="506.90000000000003" y1="102.1" x2="519.5" y2="102.1" stroke="#111" stroke-width="1.1"/>
<line x1="513.2" y1="100.5" x2="513.2" y2="104" stroke="#111" stroke-width="1.1"/>
<line x1="510.00000000000006" y1="100.5" x2="516.4000000000001" y2="100.5" stroke="#111" stroke-width="1.1"/>
<line x1="510.00000000000006" y1="104" x2="516.4000000000001" y2="104" stroke="#111" stroke-width="1.1"/>
<line x1="526.3000000000001" y1="78.3" x2="538.9" y2="78.3" stroke="#111" stroke-width="1.1"/>
<line x1="532.6" y1="77" x2="532.6" y2="80" stroke="#111" stroke-width="1.1"/>
<line x1="529.4" y1="77" x2="535.8000000000001" y2="77" stroke="#111" stroke-width="1.1"/>
<line x1="529.4" y1="80" x2="535.8000000000001" y2="80" stroke="#111" stroke-width="1.1"/>
<line x1="545.9000000000001" y1="71.2" x2="558.5" y2="71.2" stroke="#111" stroke-width="1.1"/>
<line x1="552.2" y1="70" x2="552.2" y2="72.5" stroke="#111" stroke-width="1.1"/>
<line x1="549.0" y1="70" x2="555.4000000000001" y2="70" stroke="#111" stroke-width="1.1"/>
<line x1="549.0" y1="72.5" x2="555.4000000000001" y2="72.5" stroke="#111" stroke-width="1.1"/>
<line x1="565.3000000000001" y1="62.6" x2="577.9" y2="62.6" stroke="#111" stroke-width="1.1"/>
<line x1="571.6" y1="61.5" x2="571.6" y2="63.8" stroke="#111" stroke-width="1.1"/>
<line x1="568.4" y1="61.5" x2="574.8000000000001" y2="61.5" stroke="#111" stroke-width="1.1"/>
<line x1="568.4" y1="63.8" x2="574.8000000000001" y2="63.8" stroke="#111" stroke-width="1.1"/>
<line x1="584.7" y1="57.6" x2="597.3" y2="57.6" stroke="#111" stroke-width="1.1"/>
<line x1="591" y1="56.5" x2="591" y2="59" stroke="#111" stroke-width="1.1"/>
<line x1="587.8" y1="56.5" x2="594.2" y2="56.5" stroke="#111" stroke-width="1.1"/>
<line x1="587.8" y1="59" x2="594.2" y2="59" stroke="#111" stroke-width="1.1"/>
<line x1="604.0" y1="42.6" x2="616.5999999999999" y2="42.6" stroke="#111" stroke-width="1.1"/>
<line x1="610.3" y1="41.8" x2="610.3" y2="43.4" stroke="#111" stroke-width="1.1"/>
<line x1="607.0999999999999" y1="41.8" x2="613.5" y2="41.8" stroke="#111" stroke-width="1.1"/>
<line x1="607.0999999999999" y1="43.4" x2="613.5" y2="43.4" stroke="#111" stroke-width="1.1"/>
<text x="-0.6" y="202" font-size="15" font-weight="bold" style="fill:#000;stroke:#000;stroke-width:0.45px">d</text>
<text x="87" y="201.4" font-size="10" textLength="39.6" lengthAdjust="spacingAndGlyphs">Females</text>
<text x="6.6" y="225" font-size="10" textLength="38.2" lengthAdjust="spacingAndGlyphs">pERK1/2</text>
<text x="8.6" y="253" font-size="10" textLength="36.2" lengthAdjust="spacingAndGlyphs">tERK1/2</text>
<text x="166.2" y="214.5" font-size="10" textLength="18" lengthAdjust="spacingAndGlyphs">kDa</text>
<text x="172.6" y="226.5" font-size="9.5" textLength="10.8" lengthAdjust="spacingAndGlyphs">40</text>
<text x="172.6" y="250.2" font-size="9.5" textLength="10.8" lengthAdjust="spacingAndGlyphs">40</text>
<line x1="164.5" y1="223.4" x2="168" y2="223.4" stroke="#222" stroke-width="1"/>
<line x1="164.5" y1="247.5" x2="168" y2="247.5" stroke="#222" stroke-width="1"/>
<rect x="48.8" y="206.5" width="115.6" height="26.8" fill="#e8e8e8"/><g filter="url(#bl)"><rect x="51.4" y="214.65" width="14" height="4.3" rx="1.6" fill="#3e3e3e"/><rect x="69.8" y="214.35" width="15" height="4.3" rx="1.6" fill="#3c3c3c"/><rect x="89.05" y="213.45" width="14.5" height="4.9" rx="1.6" fill="#2e2e2e"/><rect x="108.05" y="212.75" width="13.5" height="3.7" rx="1.6" fill="#c2c2c2"/><rect x="126.65" y="212.65" width="13.5" height="3.5" rx="1.6" fill="#cdcdcd"/><rect x="146.4" y="212.15" width="14" height="3.3" rx="1.6" fill="#d4d4d4"/><rect x="51.4" y="222.85" width="14" height="4.9" rx="1.6" fill="#050505"/><rect x="69.55" y="222.05" width="15.5" height="5.9" rx="1.6" fill="#000"/><rect x="89.0" y="221.85" width="14.6" height="5.5" rx="1.6" fill="#000"/><rect x="108.05" y="221.15" width="13.5" height="3.7" rx="1.6" fill="#a0a0a0"/><rect x="126.9" y="220.95" width="13" height="3.5" rx="1.6" fill="#b0b0b0"/><rect x="147.15" y="221.05" width="12.5" height="3.0999999999999996" rx="1.5499999999999998" fill="#d6d6d6"/></g><rect x="48.8" y="206.5" width="115.6" height="26.8" fill="none" stroke="#3a3a3a" stroke-width="1.1"/><rect x="48.8" y="236.1" width="115.6" height="27.0" fill="#e8e8e8"/><g filter="url(#bl)"><rect x="51.4" y="243.35" width="14" height="3.9000000000000004" rx="1.6" fill="#959595"/><rect x="70.05" y="243.35" width="14.5" height="3.7" rx="1.6" fill="#9a9a9a"/><rect x="89.05" y="242.35" width="14.5" height="4.1" rx="1.6" fill="#858585"/><rect x="108.05" y="241.45" width="13.5" height="3.9000000000000004" rx="1.6" fill="#909090"/><rect x="126.65" y="240.45" width="13.5" height="3.7" rx="1.6" fill="#a2a2a2"/><rect x="146.5" y="239.05" width="13.8" height="3.7" rx="1.6" fill="#a8a8a8" transform="rotate(-5 153.4 240.9)"/><rect x="51.3" y="253.45" width="14.2" height="4.7" rx="1.6" fill="#050505"/><rect x="69.8" y="252.95" width="15" height="4.9" rx="1.6" fill="#080808"/><rect x="89.0" y="252.15" width="14.6" height="5.3" rx="1.6" fill="#050505"/><rect x="107.9" y="251.05" width="13.8" height="4.9" rx="1.6" fill="#0c0c0c"/><rect x="126.8" y="250.65" width="13.2" height="3.9000000000000004" rx="1.6" fill="#262626" transform="rotate(-4 133.4 252.6)"/><rect x="146.3" y="248.65" width="14.2" height="3.9000000000000004" rx="1.6" fill="#2a2a2a" transform="rotate(-7 153.4 250.6)"/></g><rect x="48.8" y="236.1" width="115.6" height="27.0" fill="none" stroke="#3a3a3a" stroke-width="1.1"/>
<line x1="43.3" y1="273.7" x2="43.3" y2="390.1" stroke="#808080" stroke-width="1"/>
<line x1="40.3" y1="273.7" x2="43.3" y2="273.7" stroke="#808080" stroke-width="1"/>
<text x="36.6" y="276.9" font-size="9" text-anchor="end" textLength="16.4" lengthAdjust="spacingAndGlyphs" fill="#333">200</text>
<line x1="40.3" y1="302.8" x2="43.3" y2="302.8" stroke="#808080" stroke-width="1"/>
<text x="36.6" y="306.0" font-size="9" text-anchor="end" textLength="15.1" lengthAdjust="spacingAndGlyphs" fill="#333">150</text>
<line x1="40.3" y1="331.9" x2="43.3" y2="331.9" stroke="#808080" stroke-width="1"/>
<text x="36.6" y="335.1" font-size="9" text-anchor="end" textLength="15.1" lengthAdjust="spacingAndGlyphs" fill="#333">100</text>
<line x1="40.3" y1="361" x2="43.3" y2="361" stroke="#808080" stroke-width="1"/>
<text x="36.6" y="364.2" font-size="9" text-anchor="end" textLength="10.9" lengthAdjust="spacingAndGlyphs" fill="#333">50</text>
<line x1="40.3" y1="390.1" x2="43.3" y2="390.1" stroke="#808080" stroke-width="1"/>
<text x="36.6" y="393.3" font-size="9" text-anchor="end" textLength="5.5" lengthAdjust="spacingAndGlyphs" fill="#333">0</text>
<line x1="43.3" y1="390.1" x2="160.3" y2="390.1" stroke="#808080" stroke-width="1"/>
<line x1="53.4" y1="390.1" x2="53.4" y2="393.70000000000005" stroke="#808080" stroke-width="1"/>
<line x1="72.86" y1="390.1" x2="72.86" y2="393.70000000000005" stroke="#808080" stroke-width="1"/>
<line x1="92.32" y1="390.1" x2="92.32" y2="393.70000000000005" stroke="#808080" stroke-width="1"/>
<line x1="111.78" y1="390.1" x2="111.78" y2="393.70000000000005" stroke="#808080" stroke-width="1"/>
<line x1="131.24" y1="390.1" x2="131.24" y2="393.70000000000005" stroke="#808080" stroke-width="1"/>
<line x1="150.70000000000002" y1="390.1" x2="150.70000000000002" y2="393.70000000000005" stroke="#808080" stroke-width="1"/>
<text x="0" y="0" font-size="9.3" text-anchor="end" fill="#333" transform="translate(58.0 401.9) rotate(-45)">0</text>
<text x="0" y="0" font-size="9.3" text-anchor="end" textLength="16.6" lengthAdjust="spacingAndGlyphs" fill="#333" transform="translate(77.46 401.9) rotate(-45)">0.29</text>
<text x="0" y="0" font-size="9.3" text-anchor="end" textLength="16.6" lengthAdjust="spacingAndGlyphs" fill="#333" transform="translate(96.92 401.9) rotate(-45)">0.58</text>
<text x="0" y="0" font-size="9.3" text-anchor="end" textLength="15.4" lengthAdjust="spacingAndGlyphs" fill="#333" transform="translate(116.38 401.9) rotate(-45)">1.44</text>
<text x="0" y="0" font-size="9.3" text-anchor="end" textLength="16.6" lengthAdjust="spacingAndGlyphs" fill="#333" transform="translate(135.84 401.9) rotate(-45)">2.88</text>
<text x="0" y="0" font-size="9.3" text-anchor="end" textLength="17.4" lengthAdjust="spacingAndGlyphs" fill="#333" transform="translate(155.3 401.9) rotate(-45)">11.52</text>
<text x="38.1" y="429.7" font-size="10" textLength="128.6" lengthAdjust="spacingAndGlyphs">Trametinib in diet (mg kg<tspan font-size="6.6" dy="-4.3">−1</tspan><tspan dy="4.3">)</tspan></text>
<text x="0" y="0" font-size="10" textLength="49.5" lengthAdjust="spacingAndGlyphs" transform="translate(10.6 357.8) rotate(-90)">pERK/tERK</text>
<path d="M57.4 280.3 H150.8 V357.3" fill="none" stroke="#606060" stroke-width="0.9"/>
<text x="83.6" y="277.7" font-size="9" textLength="28.2" lengthAdjust="spacingAndGlyphs">0.0317</text>
<g fill="#000">
<circle cx="53.3" cy="284.8" r="2.35"/>
<circle cx="49.2" cy="338.8" r="2.35"/>
<circle cx="58" cy="338.8" r="2.35"/>
<circle cx="53.3" cy="345.6" r="2.35"/>
<circle cx="53.3" cy="351.1" r="2.35"/>
<circle cx="72.8" cy="291.6" r="2.35"/>
<circle cx="72.8" cy="318.7" r="2.35"/>
<circle cx="72.8" cy="341.9" r="2.35"/>
<circle cx="72.8" cy="348.7" r="2.35"/>
<circle cx="72.8" cy="373.7" r="2.35"/>
<circle cx="92.3" cy="322.8" r="2.35"/>
<circle cx="92.3" cy="338.8" r="2.35"/>
<circle cx="92.3" cy="345.6" r="2.35"/>
<circle cx="92.3" cy="358.3" r="2.35"/>
<circle cx="92.3" cy="364.9" r="2.35"/>
<circle cx="111.8" cy="314.2" r="2.35"/>
<circle cx="111.8" cy="347" r="2.35"/>
<circle cx="111.8" cy="366.1" r="2.35"/>
<circle cx="107.7" cy="373.7" r="2.35"/>
<circle cx="116.4" cy="373.7" r="2.35"/>
<circle cx="127.2" cy="347" r="2.35"/>
<circle cx="135.4" cy="351.1" r="2.35"/>
<circle cx="127.2" cy="355.8" r="2.35"/>
<circle cx="131.3" cy="378.4" r="2.35"/>
<circle cx="131.3" cy="384" r="2.35"/>
<circle cx="146.3" cy="364.1" r="2.35"/>
<circle cx="155" cy="368.2" r="2.35"/>
<circle cx="146.7" cy="372.7" r="2.35"/>
<circle cx="155" cy="379.9" r="2.35"/>
<circle cx="146.3" cy="384.4" r="2.35"/>
</g>
<line x1="47.2" y1="331.6" x2="59.8" y2="331.6" stroke="#444" stroke-width="1.1"/>
<line x1="53.5" y1="319.7" x2="53.5" y2="343.5" stroke="#444" stroke-width="1.1"/>
<line x1="50.3" y1="319.7" x2="56.7" y2="319.7" stroke="#444" stroke-width="1.1"/>
<line x1="50.3" y1="343.5" x2="56.7" y2="343.5" stroke="#444" stroke-width="1.1"/>
<line x1="66.60000000000001" y1="335.1" x2="79.2" y2="335.1" stroke="#444" stroke-width="1.1"/>
<line x1="72.9" y1="321.4" x2="72.9" y2="348.7" stroke="#444" stroke-width="1.1"/>
<line x1="69.7" y1="321.4" x2="76.10000000000001" y2="321.4" stroke="#444" stroke-width="1.1"/>
<line x1="69.7" y1="348.7" x2="76.10000000000001" y2="348.7" stroke="#444" stroke-width="1.1"/>
<line x1="86.0" y1="346.4" x2="98.6" y2="346.4" stroke="#444" stroke-width="1.1"/>
<line x1="92.3" y1="338.2" x2="92.3" y2="353.2" stroke="#444" stroke-width="1.1"/>
<line x1="89.1" y1="338.2" x2="95.5" y2="338.2" stroke="#444" stroke-width="1.1"/>
<line x1="89.1" y1="353.2" x2="95.5" y2="353.2" stroke="#444" stroke-width="1.1"/>
<line x1="105.5" y1="355.2" x2="118.1" y2="355.2" stroke="#444" stroke-width="1.1"/>
<line x1="111.8" y1="343.5" x2="111.8" y2="366.5" stroke="#444" stroke-width="1.1"/>
<line x1="108.6" y1="343.5" x2="115.0" y2="343.5" stroke="#444" stroke-width="1.1"/>
<line x1="108.6" y1="366.5" x2="115.0" y2="366.5" stroke="#444" stroke-width="1.1"/>
<line x1="125.00000000000001" y1="363.4" x2="137.60000000000002" y2="363.4" stroke="#444" stroke-width="1.1"/>
<line x1="131.3" y1="355.8" x2="131.3" y2="370.6" stroke="#444" stroke-width="1.1"/>
<line x1="128.10000000000002" y1="355.8" x2="134.5" y2="355.8" stroke="#444" stroke-width="1.1"/>
<line x1="128.10000000000002" y1="370.6" x2="134.5" y2="370.6" stroke="#444" stroke-width="1.1"/>
<line x1="144.5" y1="373.7" x2="157.10000000000002" y2="373.7" stroke="#444" stroke-width="1.1"/>
<line x1="150.8" y1="370.2" x2="150.8" y2="377.2" stroke="#444" stroke-width="1.1"/>
<line x1="147.60000000000002" y1="370.2" x2="154.0" y2="370.2" stroke="#444" stroke-width="1.1"/>
<line x1="147.60000000000002" y1="377.2" x2="154.0" y2="377.2" stroke="#444" stroke-width="1.1"/>
<text x="188.8" y="201.4" font-size="15" font-weight="bold" style="fill:#000;stroke:#000;stroke-width:0.45px">e</text>
<text x="288.3" y="201.2" font-size="10" textLength="28" lengthAdjust="spacingAndGlyphs">Males</text>
<text x="203.6" y="225" font-size="10" textLength="38.2" lengthAdjust="spacingAndGlyphs">pERK1/2</text>
<text x="206.1" y="252.7" font-size="10" textLength="35.7" lengthAdjust="spacingAndGlyphs">tERK1/2</text>
<text x="361.9" y="214.5" font-size="10" textLength="17.3" lengthAdjust="spacingAndGlyphs">kDa</text>
<text x="366.4" y="231.3" font-size="9.5" textLength="11" lengthAdjust="spacingAndGlyphs">40</text>
<text x="366.4" y="255" font-size="9.5" textLength="11" lengthAdjust="spacingAndGlyphs">40</text>
<line x1="358.9" y1="228.5" x2="362.6" y2="228.5" stroke="#222" stroke-width="1"/>
<line x1="358.9" y1="252.3" x2="362.6" y2="252.3" stroke="#222" stroke-width="1"/>
<rect x="246.5" y="206.7" width="112.4" height="26.6" fill="#e8e8e8"/><g filter="url(#bl)"><rect x="248.55" y="211.85" width="14.5" height="3.5" rx="1.6" fill="#acacac"/><rect x="268.05" y="211.95" width="13.5" height="3.5" rx="1.6" fill="#b2b2b2"/><rect x="286.4" y="213.05" width="13.8" height="4.5" rx="1.6" fill="#666"/><rect x="304.75" y="214.25" width="13.5" height="3.3" rx="1.6" fill="#c4c4c4"/><rect x="322.6" y="215.65" width="13.8" height="3.7" rx="1.6" fill="#b0b0b0"/><rect x="341.0" y="216.25" width="14" height="3.9000000000000004" rx="1.6" fill="#a8a8a8"/><rect x="248.55" y="219.85" width="14.5" height="4.5" rx="1.6" fill="#383838"/><rect x="268.05" y="220.35" width="13.5" height="4.3" rx="1.6" fill="#464646"/><rect x="286.3" y="221.35" width="14" height="5.3" rx="1.6" fill="#0a0a0a"/><rect x="304.75" y="222.65" width="13.5" height="3.7" rx="1.6" fill="#a6a6a6"/><rect x="322.6" y="224.15" width="13.8" height="3.7" rx="1.6" fill="#acacac"/><rect x="341.0" y="224.75" width="14" height="4.1" rx="1.6" fill="#959595"/></g><rect x="246.5" y="206.7" width="112.4" height="26.6" fill="none" stroke="#3a3a3a" stroke-width="1.1"/><rect x="246.5" y="233.3" width="112.4" height="2.8" fill="#8a8a8a"/><rect x="246.5" y="236.1" width="112.4" height="27.3" fill="#e8e8e8"/><g filter="url(#bl)"><rect x="248.8" y="238.95" width="14" height="3.5" rx="1.6" fill="#adadad"/><rect x="268.05" y="238.95" width="13.5" height="3.5" rx="1.6" fill="#b4b4b4"/><rect x="286.4" y="238.95" width="13.8" height="3.9000000000000004" rx="1.6" fill="#9c9c9c"/><rect x="304.75" y="239.85" width="13.5" height="3.7" rx="1.6" fill="#b0b0b0"/><rect x="322.6" y="242.55" width="13.8" height="4.1" rx="1.6" fill="#7a7a7a"/><rect x="341.0" y="243.85" width="14" height="4.1" rx="1.6" fill="#747474"/><rect x="248.7" y="247.75" width="14.2" height="4.9" rx="1.6" fill="#1c1c1c"/><rect x="267.9" y="248.15" width="13.8" height="4.5" rx="1.6" fill="#444"/><rect x="286.2" y="248.75" width="14.2" height="5.1000000000000005" rx="1.6" fill="#0c0c0c"/><rect x="304.75" y="249.35" width="13.5" height="4.7" rx="1.6" fill="#333"/><rect x="322.5" y="251.75" width="14" height="5.3" rx="1.6" fill="#050505"/><rect x="340.8" y="252.55" width="14.4" height="5.7" rx="1.6" fill="#000"/></g><rect x="246.5" y="236.1" width="112.4" height="27.3" fill="none" stroke="#3a3a3a" stroke-width="1.1"/>
<line x1="233.1" y1="273.6" x2="233.1" y2="390.3" stroke="#808080" stroke-width="1"/>
<line x1="230.1" y1="273.6" x2="233.1" y2="273.6" stroke="#808080" stroke-width="1"/>
<text x="226" y="276.8" font-size="9" text-anchor="end" textLength="16.4" lengthAdjust="spacingAndGlyphs" fill="#333">300</text>
<line x1="230.1" y1="312.5" x2="233.1" y2="312.5" stroke="#808080" stroke-width="1"/>
<text x="226" y="315.7" font-size="9" text-anchor="end" textLength="16.4" lengthAdjust="spacingAndGlyphs" fill="#333">200</text>
<line x1="230.1" y1="351.4" x2="233.1" y2="351.4" stroke="#808080" stroke-width="1"/>
<text x="226" y="354.6" font-size="9" text-anchor="end" textLength="15.1" lengthAdjust="spacingAndGlyphs" fill="#333">100</text>
<line x1="230.1" y1="390.3" x2="233.1" y2="390.3" stroke="#808080" stroke-width="1"/>
<text x="226" y="393.5" font-size="9" text-anchor="end" textLength="5.5" lengthAdjust="spacingAndGlyphs" fill="#333">0</text>
<line x1="233.1" y1="389.9" x2="349.5" y2="389.9" stroke="#808080" stroke-width="1"/>
<line x1="243.5" y1="389.9" x2="243.5" y2="393.5" stroke="#808080" stroke-width="1"/>
<line x1="262.83" y1="389.9" x2="262.83" y2="393.5" stroke="#808080" stroke-width="1"/>
<line x1="282.15999999999997" y1="389.9" x2="282.15999999999997" y2="393.5" stroke="#808080" stroke-width="1"/>
<line x1="301.49" y1="389.9" x2="301.49" y2="393.5" stroke="#808080" stroke-width="1"/>
<line x1="320.82" y1="389.9" x2="320.82" y2="393.5" stroke="#808080" stroke-width="1"/>
<line x1="340.15" y1="389.9" x2="340.15" y2="393.5" stroke="#808080" stroke-width="1"/>
<text x="0" y="0" font-size="9.3" text-anchor="end" fill="#333" transform="translate(248.1 401.7) rotate(-45)">0</text>
<text x="0" y="0" font-size="9.3" text-anchor="end" textLength="16.6" lengthAdjust="spacingAndGlyphs" fill="#333" transform="translate(267.43 401.7) rotate(-45)">0.29</text>
<text x="0" y="0" font-size="9.3" text-anchor="end" textLength="16.6" lengthAdjust="spacingAndGlyphs" fill="#333" transform="translate(286.76 401.7) rotate(-45)">0.58</text>
<text x="0" y="0" font-size="9.3" text-anchor="end" textLength="15.4" lengthAdjust="spacingAndGlyphs" fill="#333" transform="translate(306.09 401.7) rotate(-45)">1.44</text>
<text x="0" y="0" font-size="9.3" text-anchor="end" textLength="16.6" lengthAdjust="spacingAndGlyphs" fill="#333" transform="translate(325.42 401.7) rotate(-45)">2.88</text>
<text x="0" y="0" font-size="9.3" text-anchor="end" textLength="17.4" lengthAdjust="spacingAndGlyphs" fill="#333" transform="translate(344.75 401.7) rotate(-45)">11.52</text>
<text x="227.3" y="428.8" font-size="10" textLength="128.5" lengthAdjust="spacingAndGlyphs">Trametinib in diet (mg kg<tspan font-size="6.6" dy="-4.3">−1</tspan><tspan dy="4.3">)</tspan></text>
<text x="0" y="0" font-size="10" textLength="49.5" lengthAdjust="spacingAndGlyphs" transform="translate(200.7 357.9) rotate(-90)">pERK/tERK</text>
<g fill="#000">
<circle cx="243.4" cy="329.6" r="2.35"/>
<circle cx="243.4" cy="342" r="2.35"/>
<circle cx="243.4" cy="356" r="2.35"/>
<circle cx="243.4" cy="361.6" r="2.35"/>
<circle cx="243.4" cy="368" r="2.35"/>
<circle cx="262.6" cy="284.4" r="2.35"/>
<circle cx="262.6" cy="322" r="2.35"/>
<circle cx="262.6" cy="345.4" r="2.35"/>
<circle cx="262.6" cy="355" r="2.35"/>
<circle cx="262.6" cy="363.6" r="2.35"/>
<circle cx="282" cy="316.6" r="2.35"/>
<circle cx="277.6" cy="343" r="2.35"/>
<circle cx="286.4" cy="340.4" r="2.35"/>
<circle cx="282" cy="347.4" r="2.35"/>
<circle cx="282" cy="359.6" r="2.35"/>
<circle cx="301.4" cy="348.4" r="2.35"/>
<circle cx="301.4" cy="355.2" r="2.35"/>
<circle cx="297.2" cy="376.8" r="2.35"/>
<circle cx="301.7" cy="372.7" r="2.35"/>
<circle cx="305.4" cy="372.7" r="2.35"/>
<circle cx="321" cy="362.4" r="2.35"/>
<circle cx="321" cy="368" r="2.35"/>
<circle cx="321" cy="374.1" r="2.35"/>
<circle cx="316.9" cy="382" r="2.35"/>
<circle cx="325" cy="380" r="2.35"/>
<circle cx="340.5" cy="369" r="2.35"/>
<circle cx="336.1" cy="383" r="2.35"/>
<circle cx="340.5" cy="379.7" r="2.35"/>
<circle cx="342.8" cy="380" r="2.35"/>
<circle cx="344.9" cy="380.3" r="2.35"/>
</g>
<line x1="237.1" y1="351.4" x2="249.70000000000002" y2="351.4" stroke="#111" stroke-width="1.1"/>
<line x1="243.4" y1="344.4" x2="243.4" y2="358" stroke="#111" stroke-width="1.1"/>
<line x1="240.20000000000002" y1="344.4" x2="246.6" y2="344.4" stroke="#111" stroke-width="1.1"/>
<line x1="240.20000000000002" y1="358" x2="246.6" y2="358" stroke="#111" stroke-width="1.1"/>
<line x1="256.3" y1="334" x2="268.90000000000003" y2="334" stroke="#111" stroke-width="1.1"/>
<line x1="262.6" y1="319.4" x2="262.6" y2="348" stroke="#111" stroke-width="1.1"/>
<line x1="259.40000000000003" y1="319.4" x2="265.8" y2="319.4" stroke="#111" stroke-width="1.1"/>
<line x1="259.40000000000003" y1="348" x2="265.8" y2="348" stroke="#111" stroke-width="1.1"/>
<line x1="275.7" y1="341.4" x2="288.3" y2="341.4" stroke="#111" stroke-width="1.1"/>
<line x1="282" y1="334.6" x2="282" y2="347.4" stroke="#111" stroke-width="1.1"/>
<line x1="278.8" y1="334.6" x2="285.2" y2="334.6" stroke="#111" stroke-width="1.1"/>
<line x1="278.8" y1="347.4" x2="285.2" y2="347.4" stroke="#111" stroke-width="1.1"/>
<line x1="295.3" y1="365.1" x2="307.90000000000003" y2="365.1" stroke="#111" stroke-width="1.1"/>
<line x1="301.6" y1="359.3" x2="301.6" y2="370.6" stroke="#111" stroke-width="1.1"/>
<line x1="298.40000000000003" y1="359.3" x2="304.8" y2="359.3" stroke="#111" stroke-width="1.1"/>
<line x1="298.40000000000003" y1="370.6" x2="304.8" y2="370.6" stroke="#111" stroke-width="1.1"/>
<line x1="314.7" y1="373.5" x2="327.3" y2="373.5" stroke="#111" stroke-width="1.1"/>
<line x1="321" y1="369.4" x2="321" y2="377.1" stroke="#111" stroke-width="1.1"/>
<line x1="317.8" y1="369.4" x2="324.2" y2="369.4" stroke="#111" stroke-width="1.1"/>
<line x1="317.8" y1="377.1" x2="324.2" y2="377.1" stroke="#111" stroke-width="1.1"/>
<line x1="334.2" y1="378.3" x2="346.8" y2="378.3" stroke="#111" stroke-width="1.1"/>
<line x1="340.5" y1="376" x2="340.5" y2="380.5" stroke="#111" stroke-width="1.1"/>
<line x1="337.3" y1="376" x2="343.7" y2="376" stroke="#111" stroke-width="1.1"/>
<line x1="337.3" y1="380.5" x2="343.7" y2="380.5" stroke="#111" stroke-width="1.1"/>
<text x="380.6" y="202" font-size="15" font-weight="bold" style="fill:#000;stroke:#000;stroke-width:0.45px">f</text>
<text x="450.2" y="245.4" font-size="10" textLength="40" lengthAdjust="spacingAndGlyphs">Females</text>
<line x1="414.9" y1="273.7" x2="414.9" y2="390.1" stroke="#808080" stroke-width="1"/>
<line x1="411.9" y1="273.7" x2="414.9" y2="273.7" stroke="#808080" stroke-width="1"/>
<text x="407.7" y="276.9" font-size="9" text-anchor="end" textLength="9.7" lengthAdjust="spacingAndGlyphs" fill="#333">10</text>
<line x1="411.9" y1="302.8" x2="414.9" y2="302.8" stroke="#808080" stroke-width="1"/>
<text x="407.7" y="306.0" font-size="9" text-anchor="end" textLength="5.5" lengthAdjust="spacingAndGlyphs" fill="#333">5</text>
<line x1="411.9" y1="331.9" x2="414.9" y2="331.9" stroke="#808080" stroke-width="1"/>
<text x="407.7" y="335.1" font-size="9" text-anchor="end" textLength="5.5" lengthAdjust="spacingAndGlyphs" fill="#333">0</text>
<line x1="411.9" y1="361" x2="414.9" y2="361" stroke="#808080" stroke-width="1"/>
<text x="407.7" y="364.2" font-size="9" text-anchor="end" textLength="10.4" lengthAdjust="spacingAndGlyphs" fill="#333">−5</text>
<line x1="411.9" y1="390.1" x2="414.9" y2="390.1" stroke="#808080" stroke-width="1"/>
<text x="407.7" y="393.3" font-size="9" text-anchor="end" textLength="14.6" lengthAdjust="spacingAndGlyphs" fill="#333">−10</text>
<line x1="414.9" y1="389.9" x2="529.5" y2="389.9" stroke="#808080" stroke-width="1"/>
<line x1="427.3" y1="389.9" x2="427.3" y2="393.5" stroke="#808080" stroke-width="1"/>
<line x1="445.63" y1="389.9" x2="445.63" y2="393.5" stroke="#808080" stroke-width="1"/>
<line x1="463.96000000000004" y1="389.9" x2="463.96000000000004" y2="393.5" stroke="#808080" stroke-width="1"/>
<line x1="482.29" y1="389.9" x2="482.29" y2="393.5" stroke="#808080" stroke-width="1"/>
<line x1="500.62" y1="389.9" x2="500.62" y2="393.5" stroke="#808080" stroke-width="1"/>
<line x1="518.95" y1="389.9" x2="518.95" y2="393.5" stroke="#808080" stroke-width="1"/>
<text x="0" y="0" font-size="9.3" text-anchor="end" fill="#333" transform="translate(431.9 401.7) rotate(-45)">0</text>
<text x="0" y="0" font-size="9.3" text-anchor="end" textLength="16.6" lengthAdjust="spacingAndGlyphs" fill="#333" transform="translate(450.23 401.7) rotate(-45)">0.29</text>
<text x="0" y="0" font-size="9.3" text-anchor="end" textLength="16.6" lengthAdjust="spacingAndGlyphs" fill="#333" transform="translate(468.56 401.7) rotate(-45)">0.58</text>
<text x="0" y="0" font-size="9.3" text-anchor="end" textLength="15.4" lengthAdjust="spacingAndGlyphs" fill="#333" transform="translate(486.89 401.7) rotate(-45)">1.44</text>
<text x="0" y="0" font-size="9.3" text-anchor="end" textLength="16.6" lengthAdjust="spacingAndGlyphs" fill="#333" transform="translate(505.22 401.7) rotate(-45)">2.88</text>
<text x="0" y="0" font-size="9.3" text-anchor="end" textLength="17.4" lengthAdjust="spacingAndGlyphs" fill="#333" transform="translate(523.55 401.7) rotate(-45)">11.52</text>
<line x1="414.9" y1="331.9" x2="529.5" y2="331.9" stroke="#111" stroke-width="1.6" stroke-dasharray="1.6 1.45"/>
<text x="408.6" y="428.8" font-size="10" textLength="128.5" lengthAdjust="spacingAndGlyphs">Trametinib in diet (mg kg<tspan font-size="6.6" dy="-4.3">−1</tspan><tspan dy="4.3">)</tspan></text>
<text x="0" y="0" font-size="10" textLength="112.6" lengthAdjust="spacingAndGlyphs" transform="translate(387 387.4) rotate(-90)">Body weight change (g)</text>
<path d="M427.2 301.9 V279.3 H518.9 V321" fill="none" stroke="#606060" stroke-width="0.9"/>
<text x="458.4" y="276.2" font-size="9" textLength="31.2" lengthAdjust="spacingAndGlyphs">0.0002</text>
<g fill="#000">
<circle cx="427.2" cy="308.4" r="2.35"/>
<circle cx="423" cy="317.9" r="2.35"/>
<circle cx="430.7" cy="313.6" r="2.35"/>
<circle cx="430.7" cy="321" r="2.35"/>
<circle cx="427.2" cy="332.7" r="2.35"/>
<circle cx="445.6" cy="308" r="2.35"/>
<circle cx="441.5" cy="319.3" r="2.35"/>
<circle cx="449.1" cy="315.6" r="2.35"/>
<circle cx="449.1" cy="322.4" r="2.35"/>
<circle cx="445.6" cy="346.6" r="2.35"/>
<circle cx="464.1" cy="291.6" r="2.35"/>
<circle cx="460" cy="308.6" r="2.35"/>
<circle cx="467.6" cy="309" r="2.35"/>
<circle cx="464.1" cy="311.5" r="2.35"/>
<circle cx="464.1" cy="318.9" r="2.35"/>
<circle cx="478.5" cy="326.5" r="2.35"/>
<circle cx="486.1" cy="328.5" r="2.35"/>
<circle cx="478.5" cy="330.6" r="2.35"/>
<circle cx="482.6" cy="329.2" r="2.35"/>
<circle cx="483" cy="332" r="2.35"/>
<circle cx="497" cy="318.3" r="2.35"/>
<circle cx="500.4" cy="320.3" r="2.35"/>
<circle cx="504.5" cy="325.9" r="2.35"/>
<circle cx="497" cy="328" r="2.35"/>
<circle cx="500.4" cy="325.5" r="2.35"/>
<circle cx="518.9" cy="333.7" r="2.35"/>
<circle cx="518.9" cy="341.5" r="2.35"/>
<circle cx="518.9" cy="347" r="2.35"/>
<circle cx="515.4" cy="361" r="2.35"/>
<circle cx="523" cy="361" r="2.35"/>
</g>
<line x1="420.9" y1="317.9" x2="433.5" y2="317.9" stroke="#111" stroke-width="1.1"/>
<line x1="427.2" y1="314.8" x2="427.2" y2="323" stroke="#111" stroke-width="1.1"/>
<line x1="424.0" y1="314.8" x2="430.4" y2="314.8" stroke="#111" stroke-width="1.1"/>
<line x1="424.0" y1="323" x2="430.4" y2="323" stroke="#111" stroke-width="1.1"/>
<line x1="439.3" y1="321.8" x2="451.90000000000003" y2="321.8" stroke="#111" stroke-width="1.1"/>
<line x1="445.6" y1="316.2" x2="445.6" y2="329" stroke="#111" stroke-width="1.1"/>
<line x1="442.40000000000003" y1="316.2" x2="448.8" y2="316.2" stroke="#111" stroke-width="1.1"/>
<line x1="442.40000000000003" y1="329" x2="448.8" y2="329" stroke="#111" stroke-width="1.1"/>
<line x1="457.8" y1="310.1" x2="470.40000000000003" y2="310.1" stroke="#111" stroke-width="1.1"/>
<line x1="464.1" y1="303.3" x2="464.1" y2="311.5" stroke="#111" stroke-width="1.1"/>
<line x1="460.90000000000003" y1="303.3" x2="467.3" y2="303.3" stroke="#111" stroke-width="1.1"/>
<line x1="460.90000000000003" y1="311.5" x2="467.3" y2="311.5" stroke="#111" stroke-width="1.1"/>
<line x1="476.3" y1="328.5" x2="488.90000000000003" y2="328.5" stroke="#111" stroke-width="1.1"/>
<line x1="482.6" y1="327.5" x2="482.6" y2="330" stroke="#111" stroke-width="1.1"/>
<line x1="479.40000000000003" y1="327.5" x2="485.8" y2="327.5" stroke="#111" stroke-width="1.1"/>
<line x1="479.40000000000003" y1="330" x2="485.8" y2="330" stroke="#111" stroke-width="1.1"/>
<line x1="494.09999999999997" y1="323.4" x2="506.7" y2="323.4" stroke="#111" stroke-width="1.1"/>
<line x1="500.4" y1="322" x2="500.4" y2="325" stroke="#111" stroke-width="1.1"/>
<line x1="497.2" y1="322" x2="503.59999999999997" y2="322" stroke="#111" stroke-width="1.1"/>
<line x1="497.2" y1="325" x2="503.59999999999997" y2="325" stroke="#111" stroke-width="1.1"/>
<line x1="512.6" y1="349.5" x2="525.1999999999999" y2="349.5" stroke="#111" stroke-width="1.1"/>
<line x1="518.9" y1="344" x2="518.9" y2="354.2" stroke="#111" stroke-width="1.1"/>
<line x1="515.6999999999999" y1="344" x2="522.1" y2="344" stroke="#111" stroke-width="1.1"/>
<line x1="515.6999999999999" y1="354.2" x2="522.1" y2="354.2" stroke="#111" stroke-width="1.1"/>
<text x="547.6" y="201" font-size="15" font-weight="bold" style="fill:#000;stroke:#000;stroke-width:0.45px">g</text>
<text x="595.2" y="245.4" font-size="10" textLength="27.6" lengthAdjust="spacingAndGlyphs">Males</text>
<line x1="562.1" y1="273.1" x2="562.1" y2="390" stroke="#808080" stroke-width="1"/>
<line x1="559.1" y1="273.1" x2="562.1" y2="273.1" stroke="#808080" stroke-width="1"/>
<text x="555.8" y="276.3" font-size="9" text-anchor="end" textLength="9.7" lengthAdjust="spacingAndGlyphs" fill="#333">10</text>
<line x1="559.1" y1="302.3" x2="562.1" y2="302.3" stroke="#808080" stroke-width="1"/>
<text x="555.8" y="305.5" font-size="9" text-anchor="end" textLength="5.5" lengthAdjust="spacingAndGlyphs" fill="#333">5</text>
<line x1="559.1" y1="331.9" x2="562.1" y2="331.9" stroke="#808080" stroke-width="1"/>
<text x="555.8" y="335.1" font-size="9" text-anchor="end" textLength="5.5" lengthAdjust="spacingAndGlyphs" fill="#333">0</text>
<line x1="559.1" y1="361" x2="562.1" y2="361" stroke="#808080" stroke-width="1"/>
<text x="555.8" y="364.2" font-size="9" text-anchor="end" textLength="10.4" lengthAdjust="spacingAndGlyphs" fill="#333">−5</text>
<line x1="559.1" y1="390" x2="562.1" y2="390" stroke="#808080" stroke-width="1"/>
<text x="555.8" y="393.2" font-size="9" text-anchor="end" textLength="14.6" lengthAdjust="spacingAndGlyphs" fill="#333">−10</text>
<line x1="562.1" y1="389.7" x2="678.6" y2="389.7" stroke="#808080" stroke-width="1"/>
<line x1="575.0" y1="389.7" x2="575.0" y2="393.3" stroke="#808080" stroke-width="1"/>
<line x1="593.22" y1="389.7" x2="593.22" y2="393.3" stroke="#808080" stroke-width="1"/>
<line x1="611.44" y1="389.7" x2="611.44" y2="393.3" stroke="#808080" stroke-width="1"/>
<line x1="629.66" y1="389.7" x2="629.66" y2="393.3" stroke="#808080" stroke-width="1"/>
<line x1="647.88" y1="389.7" x2="647.88" y2="393.3" stroke="#808080" stroke-width="1"/>
<line x1="666.1" y1="389.7" x2="666.1" y2="393.3" stroke="#808080" stroke-width="1"/>
<text x="0" y="0" font-size="9.3" text-anchor="end" fill="#333" transform="translate(579.6 401.5) rotate(-45)">0</text>
<text x="0" y="0" font-size="9.3" text-anchor="end" textLength="16.6" lengthAdjust="spacingAndGlyphs" fill="#333" transform="translate(597.82 401.5) rotate(-45)">0.29</text>
<text x="0" y="0" font-size="9.3" text-anchor="end" textLength="16.6" lengthAdjust="spacingAndGlyphs" fill="#333" transform="translate(616.04 401.5) rotate(-45)">0.58</text>
<text x="0" y="0" font-size="9.3" text-anchor="end" textLength="15.4" lengthAdjust="spacingAndGlyphs" fill="#333" transform="translate(634.26 401.5) rotate(-45)">1.44</text>
<text x="0" y="0" font-size="9.3" text-anchor="end" textLength="16.6" lengthAdjust="spacingAndGlyphs" fill="#333" transform="translate(652.48 401.5) rotate(-45)">2.88</text>
<text x="0" y="0" font-size="9.3" text-anchor="end" textLength="17.4" lengthAdjust="spacingAndGlyphs" fill="#333" transform="translate(670.7 401.5) rotate(-45)">11.52</text>
<line x1="562.1" y1="331.9" x2="678.6" y2="331.9" stroke="#111" stroke-width="1.6" stroke-dasharray="1.6 1.45"/>
<text x="555.5" y="428.7" font-size="10" textLength="128.5" lengthAdjust="spacingAndGlyphs">Trametinib in diet (mg kg<tspan font-size="6.6" dy="-4.3">−1</tspan><tspan dy="4.3">)</tspan></text>
<path d="M575.3 283.4 V260.4 H665.5 V323.4 M575.3 272.4 H610.1 V311.5" fill="none" stroke="#606060" stroke-width="0.9"/>
<text x="600" y="258" font-size="9" textLength="33.6" lengthAdjust="spacingAndGlyphs">&lt;0.0001</text>
<text x="578" y="270" font-size="9" textLength="29.6" lengthAdjust="spacingAndGlyphs">0.0025</text>
<g fill="#000">
<circle cx="570.8" cy="292.2" r="2.35"/>
<circle cx="578.5" cy="287.9" r="2.35"/>
<circle cx="570.8" cy="296.3" r="2.35"/>
<circle cx="578.5" cy="299.2" r="2.35"/>
<circle cx="570.8" cy="302.9" r="2.35"/>
<circle cx="590.9" cy="281.9" r="2.35"/>
<circle cx="596.4" cy="281.3" r="2.35"/>
<circle cx="593.7" cy="286" r="2.35"/>
<circle cx="592.9" cy="293" r="2.35"/>
<circle cx="591.3" cy="282.4" r="2.35"/>
<circle cx="607.7" cy="316.8" r="2.35"/>
<circle cx="607.7" cy="323.8" r="2.35"/>
<circle cx="612.2" cy="320.3" r="2.35"/>
<circle cx="615.9" cy="320.3" r="2.35"/>
<circle cx="614.2" cy="320.3" r="2.35"/>
<circle cx="626.1" cy="290" r="2.35"/>
<circle cx="633.9" cy="294" r="2.35"/>
<circle cx="626.1" cy="299.8" r="2.35"/>
<circle cx="633.9" cy="299.2" r="2.35"/>
<circle cx="630.2" cy="296.1" r="2.35"/>
<circle cx="648.3" cy="279.9" r="2.35"/>
<circle cx="651.8" cy="286" r="2.35"/>
<circle cx="644.2" cy="290" r="2.35"/>
<circle cx="648.3" cy="296.7" r="2.35"/>
<circle cx="648.3" cy="312.1" r="2.35"/>
<circle cx="666.5" cy="331.6" r="2.35"/>
<circle cx="666.5" cy="347.6" r="2.35"/>
<circle cx="666.5" cy="359.2" r="2.35"/>
<circle cx="662.6" cy="368.9" r="2.35"/>
<circle cx="669.6" cy="368.1" r="2.35"/>
</g>
<line x1="568.4000000000001" y1="295.3" x2="581.0" y2="295.3" stroke="#111" stroke-width="1.1"/>
<line x1="574.7" y1="292.6" x2="574.7" y2="298.1" stroke="#111" stroke-width="1.1"/>
<line x1="571.5" y1="292.6" x2="577.9000000000001" y2="292.6" stroke="#111" stroke-width="1.1"/>
<line x1="571.5" y1="298.1" x2="577.9000000000001" y2="298.1" stroke="#111" stroke-width="1.1"/>
<line x1="587.1" y1="284.4" x2="599.6999999999999" y2="284.4" stroke="#111" stroke-width="1.1"/>
<line x1="593.4" y1="283" x2="593.4" y2="286" stroke="#111" stroke-width="1.1"/>
<line x1="590.1999999999999" y1="283" x2="596.6" y2="283" stroke="#111" stroke-width="1.1"/>
<line x1="590.1999999999999" y1="286" x2="596.6" y2="286" stroke="#111" stroke-width="1.1"/>
<line x1="605.1" y1="320.3" x2="617.6999999999999" y2="320.3" stroke="#111" stroke-width="1.1"/>
<line x1="611.4" y1="319" x2="611.4" y2="321.5" stroke="#111" stroke-width="1.1"/>
<line x1="608.1999999999999" y1="319" x2="614.6" y2="319" stroke="#111" stroke-width="1.1"/>
<line x1="608.1999999999999" y1="321.5" x2="614.6" y2="321.5" stroke="#111" stroke-width="1.1"/>
<line x1="623.3000000000001" y1="295.3" x2="635.9" y2="295.3" stroke="#111" stroke-width="1.1"/>
<line x1="629.6" y1="294" x2="629.6" y2="296.8" stroke="#111" stroke-width="1.1"/>
<line x1="626.4" y1="294" x2="632.8000000000001" y2="294" stroke="#111" stroke-width="1.1"/>
<line x1="626.4" y1="296.8" x2="632.8000000000001" y2="296.8" stroke="#111" stroke-width="1.1"/>
<line x1="642.0" y1="293.2" x2="654.5999999999999" y2="293.2" stroke="#111" stroke-width="1.1"/>
<line x1="648.3" y1="287.9" x2="648.3" y2="298.3" stroke="#111" stroke-width="1.1"/>
<line x1="645.0999999999999" y1="287.9" x2="651.5" y2="287.9" stroke="#111" stroke-width="1.1"/>
<line x1="645.0999999999999" y1="298.3" x2="651.5" y2="298.3" stroke="#111" stroke-width="1.1"/>
<line x1="660.2" y1="355.2" x2="672.8" y2="355.2" stroke="#111" stroke-width="1.1"/>
<line x1="666.5" y1="350.6" x2="666.5" y2="361.7" stroke="#111" stroke-width="1.1"/>
<line x1="663.3" y1="350.6" x2="669.7" y2="350.6" stroke="#111" stroke-width="1.1"/>
<line x1="663.3" y1="361.7" x2="669.7" y2="361.7" stroke="#111" stroke-width="1.1"/>
<text x="-0.6" y="455.6" font-size="15" font-weight="bold" style="fill:#000;stroke:#000;stroke-width:0.45px">h</text>
<text x="82" y="455" font-size="10" textLength="40" lengthAdjust="spacingAndGlyphs">Females</text>
<line x1="44.2" y1="461" x2="44.2" y2="577.6" stroke="#808080" stroke-width="1"/>
<line x1="41.2" y1="461" x2="44.2" y2="461" stroke="#808080" stroke-width="1"/>
<text x="37.4" y="464.2" font-size="9" text-anchor="end" textLength="19.1" lengthAdjust="spacingAndGlyphs" fill="#333">0.20</text>
<line x1="41.2" y1="490.2" x2="44.2" y2="490.2" stroke="#808080" stroke-width="1"/>
<text x="37.4" y="493.4" font-size="9" text-anchor="end" textLength="17.9" lengthAdjust="spacingAndGlyphs" fill="#333">0.15</text>
<line x1="41.2" y1="519.4" x2="44.2" y2="519.4" stroke="#808080" stroke-width="1"/>
<text x="37.4" y="522.6" font-size="9" text-anchor="end" textLength="17.9" lengthAdjust="spacingAndGlyphs" fill="#333">0.10</text>
<line x1="41.2" y1="548.5" x2="44.2" y2="548.5" stroke="#808080" stroke-width="1"/>
<text x="37.4" y="551.7" font-size="9" text-anchor="end" textLength="19.1" lengthAdjust="spacingAndGlyphs" fill="#333">0.05</text>
<line x1="41.2" y1="577.6" x2="44.2" y2="577.6" stroke="#808080" stroke-width="1"/>
<text x="37.4" y="580.8" font-size="9" text-anchor="end" textLength="5.5" lengthAdjust="spacingAndGlyphs" fill="#333">0</text>
<line x1="44.2" y1="577.4" x2="160.4" y2="577.4" stroke="#808080" stroke-width="1"/>
<line x1="53.6" y1="577.4" x2="53.6" y2="581.0" stroke="#808080" stroke-width="1"/>
<line x1="73.05" y1="577.4" x2="73.05" y2="581.0" stroke="#808080" stroke-width="1"/>
<line x1="92.5" y1="577.4" x2="92.5" y2="581.0" stroke="#808080" stroke-width="1"/>
<line x1="111.94999999999999" y1="577.4" x2="111.94999999999999" y2="581.0" stroke="#808080" stroke-width="1"/>
<line x1="131.4" y1="577.4" x2="131.4" y2="581.0" stroke="#808080" stroke-width="1"/>
<line x1="150.85" y1="577.4" x2="150.85" y2="581.0" stroke="#808080" stroke-width="1"/>
<text x="0" y="0" font-size="9.3" text-anchor="end" fill="#333" transform="translate(58.2 589.2) rotate(-45)">0</text>
<text x="0" y="0" font-size="9.3" text-anchor="end" textLength="16.6" lengthAdjust="spacingAndGlyphs" fill="#333" transform="translate(77.65 589.2) rotate(-45)">0.29</text>
<text x="0" y="0" font-size="9.3" text-anchor="end" textLength="16.6" lengthAdjust="spacingAndGlyphs" fill="#333" transform="translate(97.1 589.2) rotate(-45)">0.58</text>
<text x="0" y="0" font-size="9.3" text-anchor="end" textLength="15.4" lengthAdjust="spacingAndGlyphs" fill="#333" transform="translate(116.55 589.2) rotate(-45)">1.44</text>
<text x="0" y="0" font-size="9.3" text-anchor="end" textLength="16.6" lengthAdjust="spacingAndGlyphs" fill="#333" transform="translate(136.0 589.2) rotate(-45)">2.88</text>
<text x="0" y="0" font-size="9.3" text-anchor="end" textLength="17.4" lengthAdjust="spacingAndGlyphs" fill="#333" transform="translate(155.45 589.2) rotate(-45)">11.52</text>
<text x="38.6" y="616" font-size="10" textLength="128.5" lengthAdjust="spacingAndGlyphs">Trametinib in diet (mg kg<tspan font-size="6.6" dy="-4.3">−1</tspan><tspan dy="4.3">)</tspan></text>
<text x="0" y="0" font-size="9.4" textLength="82.4" lengthAdjust="spacingAndGlyphs" transform="translate(8.0 560.8) rotate(-90)">Spleen weight (g)</text>
<g fill="#000">
<circle cx="49.6" cy="527" r="2.35"/>
<circle cx="58" cy="525" r="2.35"/>
<circle cx="49.6" cy="532" r="2.35"/>
<circle cx="58" cy="530.4" r="2.35"/>
<circle cx="54" cy="529" r="2.35"/>
<circle cx="73" cy="520" r="2.35"/>
<circle cx="69" cy="526" r="2.35"/>
<circle cx="77.6" cy="525.6" r="2.35"/>
<circle cx="72" cy="526" r="2.35"/>
<circle cx="75.6" cy="526" r="2.35"/>
<circle cx="92.6" cy="518.4" r="2.35"/>
<circle cx="97" cy="524" r="2.35"/>
<circle cx="88.6" cy="532.4" r="2.35"/>
<circle cx="97" cy="528.6" r="2.35"/>
<circle cx="93" cy="526.4" r="2.35"/>
<circle cx="108" cy="523.4" r="2.35"/>
<circle cx="112.4" cy="526" r="2.35"/>
<circle cx="108" cy="537.6" r="2.35"/>
<circle cx="116.4" cy="536.4" r="2.35"/>
<circle cx="112.4" cy="534" r="2.35"/>
<circle cx="131.7" cy="518.2" r="2.35"/>
<circle cx="127.6" cy="526.4" r="2.35"/>
<circle cx="135.4" cy="526.4" r="2.35"/>
<circle cx="131.7" cy="526.4" r="2.35"/>
<circle cx="131.7" cy="536" r="2.35"/>
<circle cx="151.2" cy="483.8" r="2.35"/>
<circle cx="151.2" cy="491.8" r="2.35"/>
<circle cx="151.2" cy="509.9" r="2.35"/>
<circle cx="151.2" cy="516.1" r="2.35"/>
<circle cx="151.2" cy="528.2" r="2.35"/>
</g>
<line x1="47.5" y1="529" x2="60.099999999999994" y2="529" stroke="#111" stroke-width="1.1"/>
<line x1="53.8" y1="527.8" x2="53.8" y2="530.2" stroke="#111" stroke-width="1.1"/>
<line x1="50.599999999999994" y1="527.8" x2="57.0" y2="527.8" stroke="#111" stroke-width="1.1"/>
<line x1="50.599999999999994" y1="530.2" x2="57.0" y2="530.2" stroke="#111" stroke-width="1.1"/>
<line x1="66.9" y1="525" x2="79.5" y2="525" stroke="#111" stroke-width="1.1"/>
<line x1="73.2" y1="524" x2="73.2" y2="526" stroke="#111" stroke-width="1.1"/>
<line x1="70.0" y1="524" x2="76.4" y2="524" stroke="#111" stroke-width="1.1"/>
<line x1="70.0" y1="526" x2="76.4" y2="526" stroke="#111" stroke-width="1.1"/>
<line x1="86.5" y1="526" x2="99.1" y2="526" stroke="#111" stroke-width="1.1"/>
<line x1="92.8" y1="523.6" x2="92.8" y2="528" stroke="#111" stroke-width="1.1"/>
<line x1="89.6" y1="523.6" x2="96.0" y2="523.6" stroke="#111" stroke-width="1.1"/>
<line x1="89.6" y1="528" x2="96.0" y2="528" stroke="#111" stroke-width="1.1"/>
<line x1="105.9" y1="531.4" x2="118.5" y2="531.4" stroke="#111" stroke-width="1.1"/>
<line x1="112.2" y1="528.4" x2="112.2" y2="533.6" stroke="#111" stroke-width="1.1"/>
<line x1="109.0" y1="528.4" x2="115.4" y2="528.4" stroke="#111" stroke-width="1.1"/>
<line x1="109.0" y1="533.6" x2="115.4" y2="533.6" stroke="#111" stroke-width="1.1"/>
<line x1="125.39999999999999" y1="526.7" x2="138.0" y2="526.7" stroke="#111" stroke-width="1.1"/>
<line x1="131.7" y1="524.4" x2="131.7" y2="530" stroke="#111" stroke-width="1.1"/>
<line x1="128.5" y1="524.4" x2="134.89999999999998" y2="524.4" stroke="#111" stroke-width="1.1"/>
<line x1="128.5" y1="530" x2="134.89999999999998" y2="530" stroke="#111" stroke-width="1.1"/>
<line x1="144.89999999999998" y1="506.2" x2="157.5" y2="506.2" stroke="#111" stroke-width="1.1"/>
<line x1="151.2" y1="498" x2="151.2" y2="514.3" stroke="#111" stroke-width="1.1"/>
<line x1="148.0" y1="498" x2="154.39999999999998" y2="498" stroke="#111" stroke-width="1.1"/>
<line x1="148.0" y1="514.3" x2="154.39999999999998" y2="514.3" stroke="#111" stroke-width="1.1"/>
<text x="188.6" y="455" font-size="15" font-weight="bold" style="fill:#000;stroke:#000;stroke-width:0.45px">i</text>
<line x1="232.6" y1="461" x2="232.6" y2="577.6" stroke="#808080" stroke-width="1"/>
<line x1="229.6" y1="461" x2="232.6" y2="461" stroke="#808080" stroke-width="1"/>
<text x="225.2" y="464.2" font-size="9" text-anchor="end" textLength="19.1" lengthAdjust="spacingAndGlyphs" fill="#333">0.20</text>
<line x1="229.6" y1="490.2" x2="232.6" y2="490.2" stroke="#808080" stroke-width="1"/>
<text x="225.2" y="493.4" font-size="9" text-anchor="end" textLength="17.9" lengthAdjust="spacingAndGlyphs" fill="#333">0.15</text>
<line x1="229.6" y1="519.4" x2="232.6" y2="519.4" stroke="#808080" stroke-width="1"/>
<text x="225.2" y="522.6" font-size="9" text-anchor="end" textLength="17.9" lengthAdjust="spacingAndGlyphs" fill="#333">0.10</text>
<line x1="229.6" y1="548.5" x2="232.6" y2="548.5" stroke="#808080" stroke-width="1"/>
<text x="225.2" y="551.7" font-size="9" text-anchor="end" textLength="19.1" lengthAdjust="spacingAndGlyphs" fill="#333">0.05</text>
<line x1="229.6" y1="577.6" x2="232.6" y2="577.6" stroke="#808080" stroke-width="1"/>
<text x="225.2" y="580.8" font-size="9" text-anchor="end" textLength="5.5" lengthAdjust="spacingAndGlyphs" fill="#333">0</text>
<line x1="232.6" y1="577.4" x2="349.6" y2="577.4" stroke="#808080" stroke-width="1"/>
<line x1="242.4" y1="577.4" x2="242.4" y2="581.0" stroke="#808080" stroke-width="1"/>
<line x1="261.85" y1="577.4" x2="261.85" y2="581.0" stroke="#808080" stroke-width="1"/>
<line x1="281.3" y1="577.4" x2="281.3" y2="581.0" stroke="#808080" stroke-width="1"/>
<line x1="300.75" y1="577.4" x2="300.75" y2="581.0" stroke="#808080" stroke-width="1"/>
<line x1="320.2" y1="577.4" x2="320.2" y2="581.0" stroke="#808080" stroke-width="1"/>
<line x1="339.65" y1="577.4" x2="339.65" y2="581.0" stroke="#808080" stroke-width="1"/>
<text x="0" y="0" font-size="9.3" text-anchor="end" fill="#333" transform="translate(247.0 589.2) rotate(-45)">0</text>
<text x="0" y="0" font-size="9.3" text-anchor="end" textLength="16.6" lengthAdjust="spacingAndGlyphs" fill="#333" transform="translate(266.45 589.2) rotate(-45)">0.29</text>
<text x="0" y="0" font-size="9.3" text-anchor="end" textLength="16.6" lengthAdjust="spacingAndGlyphs" fill="#333" transform="translate(285.9 589.2) rotate(-45)">0.58</text>
<text x="0" y="0" font-size="9.3" text-anchor="end" textLength="15.4" lengthAdjust="spacingAndGlyphs" fill="#333" transform="translate(305.35 589.2) rotate(-45)">1.44</text>
<text x="0" y="0" font-size="9.3" text-anchor="end" textLength="16.6" lengthAdjust="spacingAndGlyphs" fill="#333" transform="translate(324.8 589.2) rotate(-45)">2.88</text>
<text x="0" y="0" font-size="9.3" text-anchor="end" textLength="17.4" lengthAdjust="spacingAndGlyphs" fill="#333" transform="translate(344.25 589.2) rotate(-45)">11.52</text>
<text x="226.6" y="615.8" font-size="10" textLength="128.5" lengthAdjust="spacingAndGlyphs">Trametinib in diet (mg kg<tspan font-size="6.6" dy="-4.3">−1</tspan><tspan dy="4.3">)</tspan></text>
<text x="0" y="0" font-size="9.4" textLength="82.4" lengthAdjust="spacingAndGlyphs" transform="translate(196.9 560.8) rotate(-90)">Spleen weight (g)</text>
<g fill="#000">
<circle cx="242.4" cy="514.4" r="2.35"/>
<circle cx="242.4" cy="519" r="2.35"/>
<circle cx="238.4" cy="525" r="2.35"/>
<circle cx="247" cy="525.6" r="2.35"/>
<circle cx="242.4" cy="532" r="2.35"/>
<circle cx="258" cy="514.4" r="2.35"/>
<circle cx="262.4" cy="516.4" r="2.35"/>
<circle cx="258" cy="529" r="2.35"/>
<circle cx="266" cy="528.4" r="2.35"/>
<circle cx="262" cy="528.4" r="2.35"/>
<circle cx="281.6" cy="515.6" r="2.35"/>
<circle cx="277" cy="535.6" r="2.35"/>
<circle cx="285.6" cy="533.6" r="2.35"/>
<circle cx="281.6" cy="531" r="2.35"/>
<circle cx="282.4" cy="532.4" r="2.35"/>
<circle cx="301" cy="497.6" r="2.35"/>
<circle cx="296.6" cy="507" r="2.35"/>
<circle cx="305.4" cy="509.4" r="2.35"/>
<circle cx="301" cy="512" r="2.35"/>
<circle cx="301" cy="524.4" r="2.35"/>
<circle cx="316" cy="527" r="2.35"/>
<circle cx="325" cy="524.4" r="2.35"/>
<circle cx="316" cy="532.4" r="2.35"/>
<circle cx="325" cy="535.6" r="2.35"/>
<circle cx="316" cy="537.6" r="2.35"/>
<circle cx="335.6" cy="492.4" r="2.35"/>
<circle cx="344" cy="496.6" r="2.35"/>
<circle cx="335.6" cy="498.4" r="2.35"/>
<circle cx="339.6" cy="511.6" r="2.35"/>
<circle cx="339.6" cy="530.4" r="2.35"/>
</g>
<line x1="236.1" y1="524" x2="248.70000000000002" y2="524" stroke="#111" stroke-width="1.1"/>
<line x1="242.4" y1="519.6" x2="242.4" y2="527" stroke="#111" stroke-width="1.1"/>
<line x1="239.20000000000002" y1="519.6" x2="245.6" y2="519.6" stroke="#111" stroke-width="1.1"/>
<line x1="239.20000000000002" y1="527" x2="245.6" y2="527" stroke="#111" stroke-width="1.1"/>
<line x1="255.7" y1="523.4" x2="268.3" y2="523.4" stroke="#111" stroke-width="1.1"/>
<line x1="262" y1="520.4" x2="262" y2="525.6" stroke="#111" stroke-width="1.1"/>
<line x1="258.8" y1="520.4" x2="265.2" y2="520.4" stroke="#111" stroke-width="1.1"/>
<line x1="258.8" y1="525.6" x2="265.2" y2="525.6" stroke="#111" stroke-width="1.1"/>
<line x1="275.3" y1="530" x2="287.90000000000003" y2="530" stroke="#111" stroke-width="1.1"/>
<line x1="281.6" y1="526.6" x2="281.6" y2="533" stroke="#111" stroke-width="1.1"/>
<line x1="278.40000000000003" y1="526.6" x2="284.8" y2="526.6" stroke="#111" stroke-width="1.1"/>
<line x1="278.40000000000003" y1="533" x2="284.8" y2="533" stroke="#111" stroke-width="1.1"/>
<line x1="294.7" y1="509.6" x2="307.3" y2="509.6" stroke="#111" stroke-width="1.1"/>
<line x1="301" y1="506" x2="301" y2="514" stroke="#111" stroke-width="1.1"/>
<line x1="297.8" y1="506" x2="304.2" y2="506" stroke="#111" stroke-width="1.1"/>
<line x1="297.8" y1="514" x2="304.2" y2="514" stroke="#111" stroke-width="1.1"/>
<line x1="314.09999999999997" y1="531.6" x2="326.7" y2="531.6" stroke="#111" stroke-width="1.1"/>
<line x1="320.4" y1="529.4" x2="320.4" y2="533.6" stroke="#111" stroke-width="1.1"/>
<line x1="317.2" y1="529.4" x2="323.59999999999997" y2="529.4" stroke="#111" stroke-width="1.1"/>
<line x1="317.2" y1="533.6" x2="323.59999999999997" y2="533.6" stroke="#111" stroke-width="1.1"/>
<line x1="333.3" y1="506" x2="345.90000000000003" y2="506" stroke="#111" stroke-width="1.1"/>
<line x1="339.6" y1="499.6" x2="339.6" y2="512.4" stroke="#111" stroke-width="1.1"/>
<line x1="336.40000000000003" y1="499.6" x2="342.8" y2="499.6" stroke="#111" stroke-width="1.1"/>
<line x1="336.40000000000003" y1="512.4" x2="342.8" y2="512.4" stroke="#111" stroke-width="1.1"/>
</svg>
</body></html>
